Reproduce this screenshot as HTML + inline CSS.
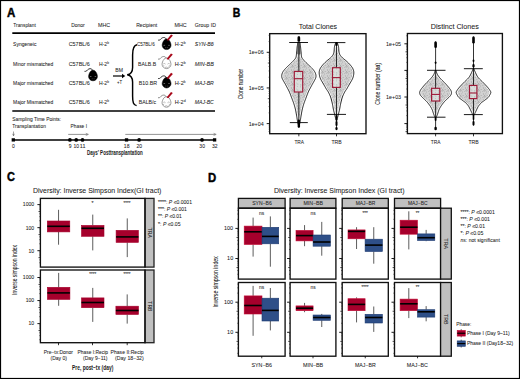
<!DOCTYPE html><html><head><meta charset="utf-8"><style>html,body{margin:0;padding:0;background:#fff;}body{width:520px;height:379px;overflow:hidden;font-family:"Liberation Sans", sans-serif;}text:not([font-weight]){stroke:#1a1a1a;stroke-width:0.05px;}</style></head><body><svg width="520" height="379" viewBox="0 0 520 379" style="display:block;font-family:'Liberation Sans', sans-serif"><defs><pattern id="dots" x="0" y="0" width="6" height="6" patternUnits="userSpaceOnUse"><rect width="6" height="6" fill="#d2d2d2"/><circle cx="3.74" cy="4.45" r="0.45" fill="#9c9c9c"/><circle cx="4.77" cy="5.65" r="0.45" fill="#9c9c9c"/><circle cx="4.44" cy="5.53" r="0.45" fill="#9c9c9c"/><circle cx="0.17" cy="2.79" r="0.45" fill="#9c9c9c"/><circle cx="5.66" cy="3.89" r="0.45" fill="#9c9c9c"/><circle cx="5.41" cy="0.68" r="0.45" fill="#9c9c9c"/><circle cx="2.81" cy="1.48" r="0.45" fill="#9c9c9c"/><circle cx="3.26" cy="3.44" r="0.45" fill="#9c9c9c"/><circle cx="0.08" cy="1.30" r="0.45" fill="#9c9c9c"/><circle cx="1.68" cy="5.50" r="0.45" fill="#9c9c9c"/><circle cx="4.59" cy="0.96" r="0.45" fill="#9c9c9c"/><circle cx="4.78" cy="0.83" r="0.45" fill="#9c9c9c"/><circle cx="3.70" cy="0.76" r="0.45" fill="#9c9c9c"/><circle cx="0.01" cy="5.23" r="0.45" fill="#9c9c9c"/></pattern><pattern id="dots2" x="0" y="0" width="6" height="6" patternUnits="userSpaceOnUse"><rect width="6" height="6" fill="#dadedc"/><circle cx="1.94" cy="0.91" r="0.45" fill="#b4b8b5"/><circle cx="3.91" cy="0.43" r="0.45" fill="#b4b8b5"/><circle cx="3.22" cy="2.19" r="0.45" fill="#b4b8b5"/><circle cx="0.35" cy="3.04" r="0.45" fill="#b4b8b5"/><circle cx="0.22" cy="2.60" r="0.45" fill="#b4b8b5"/><circle cx="0.42" cy="0.54" r="0.45" fill="#b4b8b5"/><circle cx="2.55" cy="4.96" r="0.45" fill="#b4b8b5"/><circle cx="0.74" cy="1.34" r="0.45" fill="#b4b8b5"/><circle cx="3.76" cy="5.69" r="0.45" fill="#b4b8b5"/><circle cx="3.46" cy="2.38" r="0.45" fill="#b4b8b5"/></pattern></defs><rect width="520" height="379" fill="#fff"/><rect x="0.50" y="0.50" width="519.00" height="378.00" fill="none" stroke="#000" stroke-width="1.2"/>
<text x="6.90" y="16.70" font-size="12.4" fill="#000" font-weight="bold" textLength="8.30" lengthAdjust="spacingAndGlyphs" stroke="#000" stroke-width="0.45">A</text>
<text x="13.30" y="26.80" font-size="5.6" fill="#1a1a1a" textLength="22.50" lengthAdjust="spacingAndGlyphs">Transplant</text>
<text x="71.20" y="26.90" font-size="5.6" fill="#1a1a1a" textLength="13.60" lengthAdjust="spacingAndGlyphs">Donor</text>
<text x="98.00" y="26.90" font-size="5.6" fill="#1a1a1a" textLength="12.20" lengthAdjust="spacingAndGlyphs">MHC</text>
<text x="136.20" y="27.00" font-size="5.6" fill="#1a1a1a" textLength="21.00" lengthAdjust="spacingAndGlyphs">Recipient</text>
<text x="174.40" y="27.00" font-size="5.6" fill="#1a1a1a" textLength="12.30" lengthAdjust="spacingAndGlyphs">MHC</text>
<text x="194.80" y="27.00" font-size="5.6" fill="#1a1a1a" textLength="21.10" lengthAdjust="spacingAndGlyphs">Group ID</text>
<line x1="12.30" y1="33.10" x2="215.00" y2="33.10" stroke="#000" stroke-width="1.7"/>
<text x="13.10" y="46.40" font-size="5.6" fill="#1a1a1a" textLength="23.30" lengthAdjust="spacingAndGlyphs">Syngeneic</text>
<text x="68.70" y="46.40" font-size="5.6" fill="#1a1a1a" textLength="21.10" lengthAdjust="spacingAndGlyphs">C57BL/6</text>
<text x="99.00" y="46.40" font-size="5.6" fill="#1a1a1a" textLength="10.00" lengthAdjust="spacingAndGlyphs">H-2<tspan font-size="3.6" dy="-2">b</tspan></text>
<text x="136.90" y="46.40" font-size="5.6" fill="#1a1a1a" textLength="17.80" lengthAdjust="spacingAndGlyphs">C57BL/6</text>
<text x="174.80" y="46.40" font-size="5.6" fill="#1a1a1a" textLength="10.80" lengthAdjust="spacingAndGlyphs">H-2<tspan font-size="3.6" dy="-2">b</tspan></text>
<text x="194.80" y="46.40" font-size="5.6" fill="#1a1a1a" font-style="italic" textLength="19.00" lengthAdjust="spacingAndGlyphs">SYN-B6</text>
<text x="13.10" y="65.50" font-size="5.6" fill="#1a1a1a" textLength="40.20" lengthAdjust="spacingAndGlyphs">Minor mismatched</text>
<text x="68.70" y="65.50" font-size="5.6" fill="#1a1a1a" textLength="21.10" lengthAdjust="spacingAndGlyphs">C57BL/6</text>
<text x="99.00" y="65.50" font-size="5.6" fill="#1a1a1a" textLength="10.00" lengthAdjust="spacingAndGlyphs">H-2<tspan font-size="3.6" dy="-2">b</tspan></text>
<text x="138.10" y="65.50" font-size="5.6" fill="#1a1a1a" textLength="18.00" lengthAdjust="spacingAndGlyphs">BALB.B</text>
<text x="174.80" y="65.50" font-size="5.6" fill="#1a1a1a" textLength="10.80" lengthAdjust="spacingAndGlyphs">H-2<tspan font-size="3.6" dy="-2">b</tspan></text>
<text x="194.80" y="65.50" font-size="5.6" fill="#1a1a1a" font-style="italic" textLength="19.00" lengthAdjust="spacingAndGlyphs">MIN-BB</text>
<text x="13.10" y="84.70" font-size="5.6" fill="#1a1a1a" textLength="40.20" lengthAdjust="spacingAndGlyphs">Major mismatched</text>
<text x="68.70" y="84.70" font-size="5.6" fill="#1a1a1a" textLength="21.10" lengthAdjust="spacingAndGlyphs">C57BL/6</text>
<text x="99.00" y="84.70" font-size="5.6" fill="#1a1a1a" textLength="10.00" lengthAdjust="spacingAndGlyphs">H-2<tspan font-size="3.6" dy="-2">b</tspan></text>
<text x="138.80" y="84.70" font-size="5.6" fill="#1a1a1a" textLength="18.20" lengthAdjust="spacingAndGlyphs">B10.BR</text>
<text x="174.80" y="84.70" font-size="5.6" fill="#1a1a1a" textLength="10.80" lengthAdjust="spacingAndGlyphs">H-2<tspan font-size="3.6" dy="-2">k</tspan></text>
<text x="194.80" y="84.70" font-size="5.6" fill="#1a1a1a" font-style="italic" textLength="19.00" lengthAdjust="spacingAndGlyphs">MAJ-BR</text>
<text x="13.10" y="104.00" font-size="5.6" fill="#1a1a1a" textLength="40.20" lengthAdjust="spacingAndGlyphs">Major Mismatched</text>
<text x="68.70" y="104.00" font-size="5.6" fill="#1a1a1a" textLength="21.10" lengthAdjust="spacingAndGlyphs">C57BL/6</text>
<text x="99.00" y="104.00" font-size="5.6" fill="#1a1a1a" textLength="10.00" lengthAdjust="spacingAndGlyphs">H-2<tspan font-size="3.6" dy="-2">b</tspan></text>
<text x="138.80" y="104.00" font-size="5.6" fill="#1a1a1a" textLength="17.30" lengthAdjust="spacingAndGlyphs">BALB/c</text>
<text x="174.80" y="104.00" font-size="5.6" fill="#1a1a1a" textLength="10.80" lengthAdjust="spacingAndGlyphs">H-2<tspan font-size="3.6" dy="-2">d</tspan></text>
<text x="194.80" y="104.00" font-size="5.6" fill="#1a1a1a" font-style="italic" textLength="19.00" lengthAdjust="spacingAndGlyphs">MAJ-BC</text>
<path d="M137.0,44.8 C133.6,45.3 132.6,48.5 132.6,55 L132.6,67.5 C132.6,72 131,74.2 127.2,74.8 C131,75.4 132.6,77.6 132.6,82 L132.6,96 C132.6,102.5 133.4,105 136.6,105.6" fill="none" stroke="#000" stroke-width="1.45"/>
<text x="115.30" y="71.60" font-size="5.6" fill="#1a1a1a" textLength="7.60" lengthAdjust="spacingAndGlyphs">BM</text>
<text x="117.00" y="83.50" font-size="5.6" fill="#1a1a1a" textLength="5.20" lengthAdjust="spacingAndGlyphs">+T</text>
<line x1="113.00" y1="76.00" x2="123.00" y2="76.00" stroke="#000" stroke-width="1.2"/>
<path d="M122,73.8 L125.3,76 L122,78.2 Z" fill="#000"/>
<path d="M92.70,70.40 C92.40,69.30 91.30,68.60 90.00,68.70 C88.40,68.80 87.50,69.90 86.80,70.70 C86.20,71.30 85.50,71.50 84.90,71.40" fill="none" stroke="#111" stroke-width="0.85" stroke-linecap="round"/><path d="M93.00,70.20 C95.10,70.20 96.30,72.20 97.00,74.20 C97.60,75.90 97.60,77.20 96.90,78.40 C96.10,79.80 94.80,80.70 93.00,80.80 C91.20,80.70 89.90,79.80 89.10,78.40 C88.40,77.20 88.40,75.90 89.00,74.20 C89.70,72.20 90.90,70.20 93.00,70.20 Z" fill="#000" stroke="#000" stroke-width="0.5"/><ellipse cx="90.70" cy="76.40" rx="0.9" ry="0.5" fill="#6a6a6a"/><ellipse cx="95.40" cy="76.40" rx="0.9" ry="0.5" fill="#6a6a6a"/><circle cx="92.20" cy="78.80" r="0.55" fill="#444"/><circle cx="94.10" cy="78.80" r="0.55" fill="#444"/>
<path d="M166.30,39.20 C166.00,38.10 164.90,37.40 163.60,37.50 C162.00,37.60 161.10,38.70 160.40,39.50 C159.80,40.10 159.10,40.30 158.50,40.20" fill="none" stroke="#111" stroke-width="0.85" stroke-linecap="round"/><path d="M166.60,39.00 C168.70,39.00 169.90,41.00 170.60,43.00 C171.20,44.70 171.20,46.00 170.50,47.20 C169.70,48.60 168.40,49.50 166.60,49.60 C164.80,49.50 163.50,48.60 162.70,47.20 C162.00,46.00 162.00,44.70 162.60,43.00 C163.30,41.00 164.50,39.00 166.60,39.00 Z" fill="#000" stroke="#000" stroke-width="0.5"/><ellipse cx="164.30" cy="45.20" rx="0.9" ry="0.5" fill="#6a6a6a"/><ellipse cx="169.00" cy="45.20" rx="0.9" ry="0.5" fill="#6a6a6a"/><circle cx="165.80" cy="47.60" r="0.55" fill="#444"/><circle cx="167.70" cy="47.60" r="0.55" fill="#444"/><path d="M166.60,39.90 171.10,34.40 172.90,35.50 168.30,40.70 Z" fill="#a8081a"/>
<path d="M166.20,58.20 C165.90,57.10 164.80,56.40 163.50,56.50 C161.90,56.60 161.00,57.70 160.30,58.50 C159.70,59.10 159.00,59.30 158.40,59.20" fill="none" stroke="#777" stroke-width="0.85" stroke-linecap="round"/><path d="M166.50,58.00 C168.60,58.00 169.80,60.00 170.50,62.00 C171.10,63.70 171.10,65.00 170.40,66.20 C169.60,67.60 168.30,68.50 166.50,68.60 C164.70,68.50 163.40,67.60 162.60,66.20 C161.90,65.00 161.90,63.70 162.50,62.00 C163.20,60.00 164.40,58.00 166.50,58.00 Z" fill="#fff" stroke="#666" stroke-width="0.65"/><path d="M163.30,63.80 q1.1,-0.8 2.2,0.3 M167.50,64.10 q1.1,-1.1 2.2,-0.3 M164.90,66.80 l1.0,0.9 l0.8,-0.6 l0.8,0.6 l1.0,-0.9 M164.00,65.20 l-0.9,1.2 M169.10,65.20 l0.9,1.2" fill="none" stroke="#777" stroke-width="0.5"/><path d="M166.50,58.90 171.00,53.40 172.80,54.50 168.20,59.70 Z" fill="#a8081a"/>
<path d="M166.30,77.60 C166.00,76.50 164.90,75.80 163.60,75.90 C162.00,76.00 161.10,77.10 160.40,77.90 C159.80,78.50 159.10,78.70 158.50,78.60" fill="none" stroke="#111" stroke-width="0.85" stroke-linecap="round"/><path d="M166.60,77.40 C168.70,77.40 169.90,79.40 170.60,81.40 C171.20,83.10 171.20,84.40 170.50,85.60 C169.70,87.00 168.40,87.90 166.60,88.00 C164.80,87.90 163.50,87.00 162.70,85.60 C162.00,84.40 162.00,83.10 162.60,81.40 C163.30,79.40 164.50,77.40 166.60,77.40 Z" fill="#000" stroke="#000" stroke-width="0.5"/><ellipse cx="164.30" cy="83.60" rx="0.9" ry="0.5" fill="#6a6a6a"/><ellipse cx="169.00" cy="83.60" rx="0.9" ry="0.5" fill="#6a6a6a"/><circle cx="165.80" cy="86.00" r="0.55" fill="#444"/><circle cx="167.70" cy="86.00" r="0.55" fill="#444"/><path d="M166.60,78.30 171.10,72.80 172.90,73.90 168.30,79.10 Z" fill="#a8081a"/>
<path d="M166.20,96.80 C165.90,95.70 164.80,95.00 163.50,95.10 C161.90,95.20 161.00,96.30 160.30,97.10 C159.70,97.70 159.00,97.90 158.40,97.80" fill="none" stroke="#777" stroke-width="0.85" stroke-linecap="round"/><path d="M166.50,96.60 C168.60,96.60 169.80,98.60 170.50,100.60 C171.10,102.30 171.10,103.60 170.40,104.80 C169.60,106.20 168.30,107.10 166.50,107.20 C164.70,107.10 163.40,106.20 162.60,104.80 C161.90,103.60 161.90,102.30 162.50,100.60 C163.20,98.60 164.40,96.60 166.50,96.60 Z" fill="#fff" stroke="#666" stroke-width="0.65"/><path d="M163.30,102.40 q1.1,-0.8 2.2,0.3 M167.50,102.70 q1.1,-1.1 2.2,-0.3 M164.90,105.40 l1.0,0.9 l0.8,-0.6 l0.8,0.6 l1.0,-0.9 M164.00,103.80 l-0.9,1.2 M169.10,103.80 l0.9,1.2" fill="none" stroke="#777" stroke-width="0.5"/><path d="M166.50,97.50 171.00,92.00 172.80,93.10 168.20,98.30 Z" fill="#a8081a"/>
<line x1="12.30" y1="111.00" x2="215.00" y2="111.00" stroke="#000" stroke-width="1.7"/>
<text x="12.20" y="120.50" font-size="5.6" fill="#1a1a1a" textLength="49.00" lengthAdjust="spacingAndGlyphs">Sampling Time Points:</text>
<text x="12.20" y="128.40" font-size="5.6" fill="#1a1a1a" textLength="33.70" lengthAdjust="spacingAndGlyphs">Transplantation</text>
<text x="70.60" y="128.40" font-size="5.6" fill="#1a1a1a" textLength="16.40" lengthAdjust="spacingAndGlyphs">Phase I</text>
<line x1="13.50" y1="131.50" x2="13.50" y2="135.60" stroke="#444" stroke-width="0.5"/>
<path d="M12.6,133.8 L13.5,135.8 L14.4,133.8" fill="none" stroke="#444" stroke-width="0.5"/>
<line x1="68.20" y1="134.40" x2="87.60" y2="134.40" stroke="#666" stroke-width="0.7"/>
<path d="M85.8,133.3 L88.4,134.4 L85.8,135.5" fill="none" stroke="#666" stroke-width="0.6"/>
<line x1="125.30" y1="134.40" x2="215.40" y2="134.40" stroke="#666" stroke-width="0.7"/>
<path d="M213.6,133.3 L216.2,134.4 L213.6,135.5" fill="none" stroke="#666" stroke-width="0.6"/>
<line x1="12.00" y1="139.90" x2="215.50" y2="139.90" stroke="#000" stroke-width="1.5"/>
<rect x="11.65" y="138.25" width="3.30" height="3.30" fill="#000" stroke="none" stroke-width="1"/>
<rect x="124.88" y="138.25" width="3.30" height="3.30" fill="#000" stroke="none" stroke-width="1"/>
<rect x="212.95" y="138.25" width="3.30" height="3.30" fill="#000" stroke="none" stroke-width="1"/>
<circle cx="69.92" cy="139.9" r="1.85" fill="#000"/>
<circle cx="76.21" cy="139.9" r="1.85" fill="#000"/>
<circle cx="82.50" cy="139.9" r="1.85" fill="#000"/>
<circle cx="139.11" cy="139.9" r="1.85" fill="#000"/>
<circle cx="202.02" cy="139.9" r="1.85" fill="#000"/>
<text x="12.05" y="147.70" font-size="5.0" fill="#1a1a1a" textLength="2.80" lengthAdjust="spacingAndGlyphs">0</text>
<text x="68.67" y="147.70" font-size="5.0" fill="#1a1a1a" textLength="2.80" lengthAdjust="spacingAndGlyphs">9</text>
<text x="73.56" y="147.70" font-size="5.0" fill="#1a1a1a" textLength="5.60" lengthAdjust="spacingAndGlyphs">10</text>
<text x="79.85" y="147.70" font-size="5.0" fill="#1a1a1a" textLength="5.60" lengthAdjust="spacingAndGlyphs">11</text>
<text x="123.88" y="147.70" font-size="5.0" fill="#1a1a1a" textLength="5.60" lengthAdjust="spacingAndGlyphs">18</text>
<text x="136.46" y="147.70" font-size="5.0" fill="#1a1a1a" textLength="5.60" lengthAdjust="spacingAndGlyphs">20</text>
<text x="199.37" y="147.70" font-size="5.0" fill="#1a1a1a" textLength="5.60" lengthAdjust="spacingAndGlyphs">30</text>
<text x="211.95" y="147.70" font-size="5.0" fill="#1a1a1a" textLength="5.60" lengthAdjust="spacingAndGlyphs">32</text>
<text x="87.00" y="154.80" font-size="6.6" fill="#1a1a1a" font-weight="bold" textLength="55.70" lengthAdjust="spacingAndGlyphs">Days’ Posttransplantation</text>
<text x="232.70" y="16.80" font-size="12.4" fill="#000" font-weight="bold" textLength="7.60" lengthAdjust="spacingAndGlyphs" stroke="#000" stroke-width="0.45">B</text>
<text x="298.70" y="28.60" font-size="7.3" fill="#1a1a1a" textLength="38.40" lengthAdjust="spacingAndGlyphs">Total Clones</text>
<text x="430.80" y="28.60" font-size="7.3" fill="#1a1a1a" textLength="48.00" lengthAdjust="spacingAndGlyphs">Distinct Clones</text>
<path d="M299.85,42.50 L299.93,43.24 L300.04,43.98 L300.17,44.72 L300.31,45.46 L300.44,46.22 L300.55,47.00 L300.64,47.80 L300.73,48.63 L300.81,49.46 L300.88,50.31 L300.96,51.16 L301.05,52.00 L301.13,52.88 L301.21,53.79 L301.29,54.71 L301.38,55.60 L301.50,56.41 L301.65,57.10 L301.84,57.65 L302.05,58.09 L302.28,58.45 L302.55,58.78 L302.83,59.11 L303.15,59.50 L303.50,59.93 L303.89,60.38 L304.30,60.84 L304.73,61.30 L305.16,61.75 L305.60,62.20 L306.04,62.64 L306.49,63.07 L306.96,63.51 L307.42,63.94 L307.89,64.37 L308.35,64.80 L308.81,65.23 L309.28,65.67 L309.75,66.10 L310.21,66.53 L310.66,66.97 L311.10,67.40 L311.52,67.83 L311.94,68.27 L312.34,68.71 L312.73,69.14 L313.10,69.57 L313.45,70.00 L313.77,70.42 L314.08,70.83 L314.37,71.23 L314.64,71.64 L314.88,72.06 L315.10,72.50 L315.30,72.96 L315.49,73.45 L315.65,73.94 L315.78,74.44 L315.88,74.93 L315.95,75.40 L315.98,75.85 L315.98,76.27 L315.95,76.69 L315.88,77.11 L315.78,77.55 L315.65,78.00 L315.47,78.48 L315.25,78.97 L314.99,79.47 L314.71,79.99 L314.43,80.50 L314.15,81.00 L313.88,81.50 L313.59,82.00 L313.31,82.50 L313.02,83.00 L312.73,83.50 L312.45,84.00 L312.19,84.48 L311.94,84.93 L311.70,85.39 L311.45,85.87 L311.17,86.40 L310.85,87.00 L310.48,87.68 L310.07,88.43 L309.64,89.23 L309.20,90.06 L308.76,90.92 L308.35,91.80 L307.96,92.71 L307.58,93.66 L307.20,94.64 L306.83,95.63 L306.47,96.62 L306.10,97.60 L305.73,98.57 L305.36,99.53 L304.99,100.50 L304.63,101.47 L304.28,102.43 L303.95,103.40 L303.64,104.37 L303.34,105.33 L303.06,106.30 L302.79,107.27 L302.54,108.23 L302.30,109.20 L302.08,110.18 L301.88,111.18 L301.69,112.17 L301.52,113.16 L301.36,114.10 L301.20,115.00 L301.05,115.85 L300.92,116.67 L300.79,117.45 L300.68,118.20 L300.56,118.92 L300.45,119.60 L300.34,120.25 L300.24,120.87 L300.14,121.46 L300.04,122.01 L299.95,122.53 L299.85,123.00 L299.74,123.41 L299.63,123.77 L299.51,124.09 L299.41,124.39 L299.32,124.68 L299.25,125.00 L298.45,125.00 L298.38,124.68 L298.29,124.39 L298.19,124.09 L298.07,123.77 L297.96,123.41 L297.85,123.00 L297.75,122.53 L297.66,122.01 L297.56,121.46 L297.46,120.87 L297.36,120.25 L297.25,119.60 L297.14,118.92 L297.02,118.20 L296.91,117.45 L296.78,116.67 L296.65,115.85 L296.50,115.00 L296.34,114.10 L296.18,113.16 L296.01,112.17 L295.82,111.18 L295.62,110.18 L295.40,109.20 L295.16,108.23 L294.91,107.27 L294.64,106.30 L294.36,105.33 L294.06,104.37 L293.75,103.40 L293.42,102.43 L293.07,101.47 L292.71,100.50 L292.34,99.53 L291.97,98.57 L291.60,97.60 L291.23,96.62 L290.87,95.63 L290.50,94.64 L290.12,93.66 L289.74,92.71 L289.35,91.80 L288.94,90.92 L288.50,90.06 L288.06,89.23 L287.63,88.43 L287.22,87.68 L286.85,87.00 L286.53,86.40 L286.25,85.87 L286.00,85.39 L285.76,84.93 L285.51,84.48 L285.25,84.00 L284.97,83.50 L284.68,83.00 L284.39,82.50 L284.11,82.00 L283.82,81.50 L283.55,81.00 L283.27,80.50 L282.99,79.99 L282.71,79.47 L282.45,78.97 L282.23,78.48 L282.05,78.00 L281.92,77.55 L281.82,77.11 L281.75,76.69 L281.72,76.27 L281.72,75.85 L281.75,75.40 L281.82,74.93 L281.92,74.44 L282.05,73.94 L282.21,73.45 L282.40,72.96 L282.60,72.50 L282.82,72.06 L283.06,71.64 L283.33,71.23 L283.62,70.83 L283.93,70.42 L284.25,70.00 L284.60,69.57 L284.97,69.14 L285.36,68.71 L285.76,68.27 L286.18,67.83 L286.60,67.40 L287.04,66.97 L287.49,66.53 L287.95,66.10 L288.42,65.67 L288.89,65.23 L289.35,64.80 L289.81,64.37 L290.28,63.94 L290.74,63.51 L291.21,63.07 L291.66,62.64 L292.10,62.20 L292.54,61.75 L292.97,61.30 L293.40,60.84 L293.81,60.38 L294.20,59.93 L294.55,59.50 L294.87,59.11 L295.15,58.78 L295.42,58.45 L295.65,58.09 L295.86,57.65 L296.05,57.10 L296.20,56.41 L296.32,55.60 L296.41,54.71 L296.49,53.79 L296.57,52.88 L296.65,52.00 L296.74,51.16 L296.82,50.31 L296.89,49.46 L296.97,48.63 L297.06,47.80 L297.15,47.00 L297.26,46.22 L297.39,45.46 L297.53,44.72 L297.66,43.98 L297.77,43.24 L297.85,42.50 Z" fill="#fff" stroke="#111" stroke-width="0.95"/>
<path d="M299.01,45.46 L299.14,46.22 L299.25,47.00 L299.34,47.80 L299.43,48.63 L299.51,49.46 L299.58,50.31 L299.66,51.16 L299.75,52.00 L299.83,52.88 L299.91,53.79 L299.99,54.71 L300.08,55.60 L300.20,56.41 L300.35,57.10 L300.54,57.65 L300.75,58.09 L300.98,58.45 L301.25,58.78 L301.53,59.11 L301.85,59.50 L302.20,59.93 L302.59,60.38 L303.00,60.84 L303.43,61.30 L303.86,61.75 L304.30,62.20 L304.74,62.64 L305.19,63.07 L305.66,63.51 L306.12,63.94 L306.59,64.37 L307.05,64.80 L307.51,65.23 L307.98,65.67 L308.45,66.10 L308.91,66.53 L309.36,66.97 L309.80,67.40 L310.22,67.83 L310.64,68.27 L311.04,68.71 L311.43,69.14 L311.80,69.57 L312.15,70.00 L312.47,70.42 L312.78,70.83 L313.07,71.23 L313.34,71.64 L313.58,72.06 L313.80,72.50 L314.00,72.96 L314.19,73.45 L314.35,73.94 L314.48,74.44 L314.58,74.93 L314.65,75.40 L314.68,75.85 L314.68,76.27 L314.65,76.69 L314.58,77.11 L314.48,77.55 L314.35,78.00 L314.17,78.48 L313.95,78.97 L313.69,79.47 L313.41,79.99 L313.13,80.50 L312.85,81.00 L312.58,81.50 L312.29,82.00 L312.01,82.50 L311.72,83.00 L311.43,83.50 L311.15,84.00 L310.89,84.48 L310.64,84.93 L310.40,85.39 L310.15,85.87 L309.87,86.40 L309.55,87.00 L309.18,87.68 L308.77,88.43 L308.34,89.23 L307.90,90.06 L307.46,90.92 L307.05,91.80 L306.66,92.71 L306.28,93.66 L305.90,94.64 L305.53,95.63 L305.17,96.62 L304.80,97.60 L304.43,98.57 L304.06,99.53 L303.69,100.50 L303.33,101.47 L302.98,102.43 L302.65,103.40 L302.34,104.37 L302.04,105.33 L301.76,106.30 L301.49,107.27 L301.24,108.23 L301.00,109.20 L300.78,110.18 L300.58,111.18 L300.39,112.17 L300.22,113.16 L300.06,114.10 L299.90,115.00 L299.75,115.85 L299.62,116.67 L299.49,117.45 L299.38,118.20 L299.26,118.92 L299.15,119.60 L299.04,120.25 L298.94,120.87 L298.76,120.87 L298.66,120.25 L298.55,119.60 L298.44,118.92 L298.32,118.20 L298.21,117.45 L298.08,116.67 L297.95,115.85 L297.80,115.00 L297.64,114.10 L297.48,113.16 L297.31,112.17 L297.12,111.18 L296.92,110.18 L296.70,109.20 L296.46,108.23 L296.21,107.27 L295.94,106.30 L295.66,105.33 L295.36,104.37 L295.05,103.40 L294.72,102.43 L294.37,101.47 L294.01,100.50 L293.64,99.53 L293.27,98.57 L292.90,97.60 L292.53,96.62 L292.17,95.63 L291.80,94.64 L291.42,93.66 L291.04,92.71 L290.65,91.80 L290.24,90.92 L289.80,90.06 L289.36,89.23 L288.93,88.43 L288.52,87.68 L288.15,87.00 L287.83,86.40 L287.55,85.87 L287.30,85.39 L287.06,84.93 L286.81,84.48 L286.55,84.00 L286.27,83.50 L285.98,83.00 L285.69,82.50 L285.41,82.00 L285.12,81.50 L284.85,81.00 L284.57,80.50 L284.29,79.99 L284.01,79.47 L283.75,78.97 L283.53,78.48 L283.35,78.00 L283.22,77.55 L283.12,77.11 L283.05,76.69 L283.02,76.27 L283.02,75.85 L283.05,75.40 L283.12,74.93 L283.22,74.44 L283.35,73.94 L283.51,73.45 L283.70,72.96 L283.90,72.50 L284.12,72.06 L284.36,71.64 L284.63,71.23 L284.92,70.83 L285.23,70.42 L285.55,70.00 L285.90,69.57 L286.27,69.14 L286.66,68.71 L287.06,68.27 L287.48,67.83 L287.90,67.40 L288.34,66.97 L288.79,66.53 L289.25,66.10 L289.72,65.67 L290.19,65.23 L290.65,64.80 L291.11,64.37 L291.58,63.94 L292.04,63.51 L292.51,63.07 L292.96,62.64 L293.40,62.20 L293.84,61.75 L294.27,61.30 L294.70,60.84 L295.11,60.38 L295.50,59.93 L295.85,59.50 L296.17,59.11 L296.45,58.78 L296.72,58.45 L296.95,58.09 L297.16,57.65 L297.35,57.10 L297.50,56.41 L297.62,55.60 L297.71,54.71 L297.79,53.79 L297.87,52.88 L297.95,52.00 L298.04,51.16 L298.12,50.31 L298.19,49.46 L298.27,48.63 L298.36,47.80 L298.45,47.00 L298.56,46.22 L298.69,45.46 Z" fill="url(#dots)"/>
<path d="M337.30,42.50 L337.44,43.15 L337.63,43.77 L337.85,44.39 L338.09,45.05 L338.31,45.77 L338.50,46.60 L338.63,47.59 L338.72,48.71 L338.79,49.91 L338.89,51.10 L339.03,52.22 L339.25,53.20 L339.54,54.02 L339.87,54.73 L340.26,55.37 L340.69,55.97 L341.19,56.57 L341.75,57.20 L342.41,57.85 L343.17,58.50 L343.98,59.15 L344.82,59.80 L345.64,60.45 L346.40,61.10 L347.11,61.76 L347.82,62.43 L348.50,63.10 L349.16,63.77 L349.77,64.44 L350.35,65.10 L350.89,65.75 L351.40,66.40 L351.87,67.05 L352.30,67.70 L352.68,68.35 L353.00,69.00 L353.26,69.65 L353.47,70.28 L353.63,70.91 L353.74,71.57 L353.80,72.26 L353.80,73.00 L353.76,73.79 L353.67,74.62 L353.53,75.49 L353.33,76.39 L353.06,77.33 L352.70,78.30 L352.22,79.36 L351.60,80.50 L350.92,81.69 L350.22,82.85 L349.56,83.94 L349.00,84.90 L348.55,85.71 L348.15,86.43 L347.80,87.06 L347.47,87.65 L347.14,88.22 L346.80,88.80 L346.45,89.35 L346.10,89.85 L345.76,90.33 L345.41,90.83 L345.06,91.37 L344.70,92.00 L344.32,92.72 L343.92,93.49 L343.52,94.31 L343.13,95.18 L342.75,96.08 L342.40,97.00 L342.08,97.96 L341.79,98.96 L341.51,100.00 L341.25,101.06 L340.99,102.13 L340.75,103.20 L340.51,104.32 L340.29,105.50 L340.07,106.69 L339.87,107.84 L339.68,108.89 L339.50,109.80 L339.34,110.52 L339.21,111.09 L339.08,111.56 L338.96,112.00 L338.84,112.46 L338.70,113.00 L338.54,113.63 L338.37,114.31 L338.20,115.01 L338.03,115.71 L337.86,116.38 L337.70,117.00 L337.55,117.56 L337.39,118.07 L337.24,118.56 L337.10,119.04 L336.98,119.51 L336.90,120.00 L336.10,120.00 L336.02,119.51 L335.90,119.04 L335.76,118.56 L335.61,118.07 L335.45,117.56 L335.30,117.00 L335.14,116.38 L334.97,115.71 L334.80,115.01 L334.63,114.31 L334.46,113.63 L334.30,113.00 L334.16,112.46 L334.04,112.00 L333.92,111.56 L333.79,111.09 L333.66,110.52 L333.50,109.80 L333.32,108.89 L333.13,107.84 L332.93,106.69 L332.71,105.50 L332.49,104.32 L332.25,103.20 L332.01,102.13 L331.75,101.06 L331.49,100.00 L331.21,98.96 L330.92,97.96 L330.60,97.00 L330.25,96.08 L329.87,95.18 L329.48,94.31 L329.08,93.49 L328.68,92.72 L328.30,92.00 L327.94,91.37 L327.59,90.83 L327.24,90.33 L326.90,89.85 L326.55,89.35 L326.20,88.80 L325.86,88.22 L325.53,87.65 L325.20,87.06 L324.85,86.43 L324.45,85.71 L324.00,84.90 L323.44,83.94 L322.78,82.85 L322.08,81.69 L321.40,80.50 L320.78,79.36 L320.30,78.30 L319.94,77.33 L319.67,76.39 L319.47,75.49 L319.33,74.62 L319.24,73.79 L319.20,73.00 L319.20,72.26 L319.26,71.57 L319.37,70.91 L319.53,70.28 L319.74,69.65 L320.00,69.00 L320.32,68.35 L320.70,67.70 L321.13,67.05 L321.60,66.40 L322.11,65.75 L322.65,65.10 L323.23,64.44 L323.84,63.77 L324.50,63.10 L325.18,62.43 L325.89,61.76 L326.60,61.10 L327.36,60.45 L328.18,59.80 L329.02,59.15 L329.83,58.50 L330.59,57.85 L331.25,57.20 L331.81,56.57 L332.31,55.97 L332.74,55.37 L333.13,54.73 L333.46,54.02 L333.75,53.20 L333.97,52.22 L334.11,51.10 L334.21,49.91 L334.28,48.71 L334.37,47.59 L334.50,46.60 L334.69,45.77 L334.91,45.05 L335.15,44.39 L335.37,43.77 L335.56,43.15 L335.70,42.50 Z" fill="#fff" stroke="#111" stroke-width="0.95"/>
<path d="M336.55,44.39 L336.79,45.05 L337.01,45.77 L337.20,46.60 L337.33,47.59 L337.42,48.71 L337.49,49.91 L337.59,51.10 L337.73,52.22 L337.95,53.20 L338.24,54.02 L338.57,54.73 L338.96,55.37 L339.39,55.97 L339.89,56.57 L340.45,57.20 L341.11,57.85 L341.87,58.50 L342.68,59.15 L343.52,59.80 L344.34,60.45 L345.10,61.10 L345.81,61.76 L346.52,62.43 L347.20,63.10 L347.86,63.77 L348.48,64.44 L349.05,65.10 L349.59,65.75 L350.10,66.40 L350.57,67.05 L351.00,67.70 L351.38,68.35 L351.70,69.00 L351.96,69.65 L352.17,70.28 L352.33,70.91 L352.44,71.57 L352.50,72.26 L352.50,73.00 L352.46,73.79 L352.37,74.62 L352.23,75.49 L352.03,76.39 L351.76,77.33 L351.40,78.30 L350.92,79.36 L350.30,80.50 L349.62,81.69 L348.92,82.85 L348.26,83.94 L347.70,84.90 L347.25,85.71 L346.85,86.43 L346.50,87.06 L346.17,87.65 L345.84,88.22 L345.50,88.80 L345.15,89.35 L344.80,89.85 L344.46,90.33 L344.11,90.83 L343.76,91.37 L343.40,92.00 L343.02,92.72 L342.62,93.49 L342.22,94.31 L341.83,95.18 L341.45,96.08 L341.10,97.00 L340.78,97.96 L340.49,98.96 L340.21,100.00 L339.95,101.06 L339.69,102.13 L339.45,103.20 L339.21,104.32 L338.99,105.50 L338.77,106.69 L338.57,107.84 L338.38,108.89 L338.20,109.80 L338.04,110.52 L337.91,111.09 L337.78,111.56 L337.66,112.00 L337.54,112.46 L337.40,113.00 L337.24,113.63 L337.07,114.31 L336.90,115.01 L336.73,115.71 L336.56,116.38 L336.44,116.38 L336.27,115.71 L336.10,115.01 L335.93,114.31 L335.76,113.63 L335.60,113.00 L335.46,112.46 L335.34,112.00 L335.22,111.56 L335.09,111.09 L334.96,110.52 L334.80,109.80 L334.62,108.89 L334.43,107.84 L334.23,106.69 L334.01,105.50 L333.79,104.32 L333.55,103.20 L333.31,102.13 L333.05,101.06 L332.79,100.00 L332.51,98.96 L332.22,97.96 L331.90,97.00 L331.55,96.08 L331.17,95.18 L330.78,94.31 L330.38,93.49 L329.98,92.72 L329.60,92.00 L329.24,91.37 L328.89,90.83 L328.54,90.33 L328.20,89.85 L327.85,89.35 L327.50,88.80 L327.16,88.22 L326.83,87.65 L326.50,87.06 L326.15,86.43 L325.75,85.71 L325.30,84.90 L324.74,83.94 L324.08,82.85 L323.38,81.69 L322.70,80.50 L322.08,79.36 L321.60,78.30 L321.24,77.33 L320.97,76.39 L320.77,75.49 L320.63,74.62 L320.54,73.79 L320.50,73.00 L320.50,72.26 L320.56,71.57 L320.67,70.91 L320.83,70.28 L321.04,69.65 L321.30,69.00 L321.62,68.35 L322.00,67.70 L322.43,67.05 L322.90,66.40 L323.41,65.75 L323.95,65.10 L324.52,64.44 L325.14,63.77 L325.80,63.10 L326.48,62.43 L327.19,61.76 L327.90,61.10 L328.66,60.45 L329.48,59.80 L330.32,59.15 L331.13,58.50 L331.89,57.85 L332.55,57.20 L333.11,56.57 L333.61,55.97 L334.04,55.37 L334.43,54.73 L334.76,54.02 L335.05,53.20 L335.27,52.22 L335.41,51.10 L335.51,49.91 L335.58,48.71 L335.67,47.59 L335.80,46.60 L335.99,45.77 L336.21,45.05 L336.45,44.39 Z" fill="url(#dots)"/>
<line x1="298.85" y1="36.50" x2="298.85" y2="127.50" stroke="#000" stroke-width="0.8"/>
<line x1="336.50" y1="42.00" x2="336.50" y2="130.00" stroke="#000" stroke-width="0.8"/>
<rect x="297.50" y="36.30" width="2.70" height="5.50" rx="1.35" fill="#000"/>
<rect x="297.35" y="41.5" width="3" height="13" rx="1.2" fill="#4a4a4a"/>
<rect x="297.65" y="119.50" width="2.40" height="8.20" rx="1.20" fill="#000"/>
<rect x="335.40" y="42.30" width="2.20" height="3.70" rx="1.10" fill="#000"/>
<rect x="335.60" y="115.00" width="1.80" height="6.00" rx="0.90" fill="#000"/>
<rect x="335.50" y="121.00" width="2.00" height="5.00" rx="1.00" fill="#000"/>
<rect x="335.40" y="127.00" width="2.20" height="3.20" rx="1.10" fill="#000"/>
<line x1="289.20" y1="42.50" x2="308.00" y2="42.50" stroke="#000" stroke-width="0.9"/>
<line x1="289.80" y1="122.60" x2="307.80" y2="122.60" stroke="#000" stroke-width="0.9"/>
<line x1="327.00" y1="42.60" x2="345.40" y2="42.60" stroke="#000" stroke-width="0.9"/>
<line x1="326.90" y1="114.40" x2="346.00" y2="114.40" stroke="#000" stroke-width="0.9"/>
<rect x="294.30" y="71.40" width="8.40" height="20.60" fill="url(#dots2)" stroke="#9e1836" stroke-width="1.15"/>
<line x1="294.30" y1="78.70" x2="302.70" y2="78.70" stroke="#9e1836" stroke-width="1.1"/>
<rect x="332.50" y="67.70" width="7.80" height="19.70" fill="url(#dots2)" stroke="#9e1836" stroke-width="1.15"/>
<line x1="332.50" y1="77.60" x2="340.30" y2="77.60" stroke="#9e1836" stroke-width="1.1"/>
<rect x="269.70" y="33.65" width="96.30" height="100.05" fill="none" stroke="#111" stroke-width="1.35"/>
<line x1="268.60" y1="131.51" x2="269.70" y2="131.51" stroke="#222" stroke-width="0.65"/>
<line x1="268.60" y1="129.12" x2="269.70" y2="129.12" stroke="#222" stroke-width="0.65"/>
<line x1="268.60" y1="127.05" x2="269.70" y2="127.05" stroke="#222" stroke-width="0.65"/>
<line x1="268.60" y1="125.23" x2="269.70" y2="125.23" stroke="#222" stroke-width="0.65"/>
<line x1="266.70" y1="123.60" x2="269.70" y2="123.60" stroke="#000" stroke-width="0.9"/>
<line x1="268.60" y1="112.87" x2="269.70" y2="112.87" stroke="#222" stroke-width="0.65"/>
<line x1="268.60" y1="106.59" x2="269.70" y2="106.59" stroke="#222" stroke-width="0.65"/>
<line x1="268.60" y1="102.14" x2="269.70" y2="102.14" stroke="#222" stroke-width="0.65"/>
<line x1="267.80" y1="98.68" x2="269.70" y2="98.68" stroke="#111" stroke-width="0.75"/>
<line x1="268.60" y1="95.86" x2="269.70" y2="95.86" stroke="#222" stroke-width="0.65"/>
<line x1="268.60" y1="93.47" x2="269.70" y2="93.47" stroke="#222" stroke-width="0.65"/>
<line x1="268.60" y1="91.40" x2="269.70" y2="91.40" stroke="#222" stroke-width="0.65"/>
<line x1="268.60" y1="89.58" x2="269.70" y2="89.58" stroke="#222" stroke-width="0.65"/>
<line x1="266.70" y1="87.95" x2="269.70" y2="87.95" stroke="#000" stroke-width="0.9"/>
<line x1="268.60" y1="77.22" x2="269.70" y2="77.22" stroke="#222" stroke-width="0.65"/>
<line x1="268.60" y1="70.94" x2="269.70" y2="70.94" stroke="#222" stroke-width="0.65"/>
<line x1="268.60" y1="66.49" x2="269.70" y2="66.49" stroke="#222" stroke-width="0.65"/>
<line x1="267.80" y1="63.03" x2="269.70" y2="63.03" stroke="#111" stroke-width="0.75"/>
<line x1="268.60" y1="60.21" x2="269.70" y2="60.21" stroke="#222" stroke-width="0.65"/>
<line x1="268.60" y1="57.82" x2="269.70" y2="57.82" stroke="#222" stroke-width="0.65"/>
<line x1="268.60" y1="55.75" x2="269.70" y2="55.75" stroke="#222" stroke-width="0.65"/>
<line x1="268.60" y1="53.93" x2="269.70" y2="53.93" stroke="#222" stroke-width="0.65"/>
<line x1="266.70" y1="52.30" x2="269.70" y2="52.30" stroke="#000" stroke-width="0.9"/>
<line x1="268.60" y1="41.57" x2="269.70" y2="41.57" stroke="#222" stroke-width="0.65"/>
<line x1="268.60" y1="35.29" x2="269.70" y2="35.29" stroke="#222" stroke-width="0.65"/>
<text x="248.70" y="54.20" font-size="5.3" fill="#1a1a1a" textLength="15.00" lengthAdjust="spacingAndGlyphs">1e+06</text>
<text x="248.70" y="89.90" font-size="5.3" fill="#1a1a1a" textLength="15.00" lengthAdjust="spacingAndGlyphs">1e+05</text>
<text x="248.70" y="125.50" font-size="5.3" fill="#1a1a1a" textLength="15.00" lengthAdjust="spacingAndGlyphs">1e+04</text>
<line x1="298.85" y1="133.70" x2="298.85" y2="136.30" stroke="#000" stroke-width="0.8"/>
<line x1="336.50" y1="133.70" x2="336.50" y2="136.30" stroke="#000" stroke-width="0.8"/>
<text x="294.40" y="144.40" font-size="5.5" fill="#1a1a1a" textLength="9.60" lengthAdjust="spacingAndGlyphs">TRA</text>
<text x="331.50" y="144.40" font-size="5.5" fill="#1a1a1a" textLength="10.20" lengthAdjust="spacingAndGlyphs">TRB</text>
<text transform="translate(243.2,99.3) rotate(-90)" font-size="7" fill="#111" textLength="30.5" lengthAdjust="spacingAndGlyphs">Clone number</text>
<path d="M436.10,70.50 L436.22,71.16 L436.37,71.82 L436.55,72.48 L436.78,73.14 L437.06,73.82 L437.40,74.50 L437.81,75.20 L438.29,75.91 L438.81,76.63 L439.38,77.36 L439.98,78.08 L440.60,78.80 L441.26,79.52 L441.97,80.24 L442.72,80.96 L443.47,81.67 L444.21,82.39 L444.90,83.10 L445.57,83.82 L446.24,84.56 L446.89,85.30 L447.51,86.01 L448.09,86.69 L448.60,87.30 L449.04,87.84 L449.43,88.33 L449.78,88.77 L450.08,89.19 L450.35,89.59 L450.60,90.00 L450.83,90.41 L451.03,90.80 L451.20,91.18 L451.34,91.56 L451.44,91.93 L451.50,92.30 L451.52,92.67 L451.50,93.04 L451.45,93.41 L451.36,93.78 L451.25,94.14 L451.10,94.50 L450.93,94.85 L450.72,95.20 L450.48,95.54 L450.21,95.88 L449.92,96.23 L449.60,96.60 L449.24,96.98 L448.85,97.37 L448.42,97.77 L447.98,98.17 L447.54,98.58 L447.10,99.00 L446.66,99.42 L446.22,99.84 L445.77,100.27 L445.32,100.70 L444.88,101.15 L444.45,101.60 L444.04,102.07 L443.63,102.55 L443.23,103.04 L442.84,103.53 L442.46,104.02 L442.10,104.50 L441.76,104.97 L441.43,105.44 L441.11,105.91 L440.81,106.38 L440.52,106.84 L440.25,107.30 L439.99,107.75 L439.75,108.20 L439.52,108.64 L439.31,109.08 L439.10,109.53 L438.90,110.00 L438.71,110.48 L438.54,110.98 L438.38,111.48 L438.23,111.99 L438.07,112.50 L437.90,113.00 L437.72,113.52 L437.53,114.06 L437.33,114.59 L437.14,115.11 L436.96,115.59 L436.80,116.00 L436.65,116.34 L436.51,116.61 L436.38,116.84 L436.27,117.06 L436.17,117.27 L436.10,117.50 L435.10,117.50 L435.03,117.27 L434.93,117.06 L434.82,116.84 L434.69,116.61 L434.55,116.34 L434.40,116.00 L434.24,115.59 L434.06,115.11 L433.87,114.59 L433.67,114.06 L433.48,113.52 L433.30,113.00 L433.13,112.50 L432.97,111.99 L432.82,111.48 L432.66,110.98 L432.49,110.48 L432.30,110.00 L432.10,109.53 L431.89,109.08 L431.68,108.64 L431.45,108.20 L431.21,107.75 L430.95,107.30 L430.68,106.84 L430.39,106.38 L430.09,105.91 L429.77,105.44 L429.44,104.97 L429.10,104.50 L428.74,104.02 L428.36,103.53 L427.98,103.04 L427.57,102.55 L427.16,102.07 L426.75,101.60 L426.32,101.15 L425.88,100.70 L425.43,100.27 L424.98,99.84 L424.54,99.42 L424.10,99.00 L423.66,98.58 L423.22,98.17 L422.78,97.77 L422.35,97.37 L421.96,96.98 L421.60,96.60 L421.28,96.23 L420.99,95.88 L420.72,95.54 L420.48,95.20 L420.27,94.85 L420.10,94.50 L419.95,94.14 L419.84,93.78 L419.75,93.41 L419.70,93.04 L419.68,92.67 L419.70,92.30 L419.76,91.93 L419.86,91.56 L420.00,91.18 L420.17,90.80 L420.37,90.41 L420.60,90.00 L420.85,89.59 L421.12,89.19 L421.43,88.77 L421.77,88.33 L422.16,87.84 L422.60,87.30 L423.11,86.69 L423.69,86.01 L424.31,85.30 L424.96,84.56 L425.63,83.82 L426.30,83.10 L426.99,82.39 L427.73,81.67 L428.48,80.96 L429.23,80.24 L429.94,79.52 L430.60,78.80 L431.22,78.08 L431.82,77.36 L432.39,76.63 L432.91,75.91 L433.39,75.20 L433.80,74.50 L434.14,73.82 L434.42,73.14 L434.65,72.48 L434.83,71.82 L434.98,71.16 L435.10,70.50 Z" fill="#fff" stroke="#111" stroke-width="0.95"/>
<path d="M435.76,73.82 L436.10,74.50 L436.51,75.20 L436.99,75.91 L437.51,76.63 L438.08,77.36 L438.68,78.08 L439.30,78.80 L439.96,79.52 L440.67,80.24 L441.42,80.96 L442.17,81.67 L442.91,82.39 L443.60,83.10 L444.27,83.82 L444.94,84.56 L445.59,85.30 L446.21,86.01 L446.79,86.69 L447.30,87.30 L447.74,87.84 L448.13,88.33 L448.48,88.77 L448.78,89.19 L449.05,89.59 L449.30,90.00 L449.53,90.41 L449.73,90.80 L449.90,91.18 L450.04,91.56 L450.14,91.93 L450.20,92.30 L450.22,92.67 L450.20,93.04 L450.15,93.41 L450.06,93.78 L449.95,94.14 L449.80,94.50 L449.63,94.85 L449.42,95.20 L449.18,95.54 L448.91,95.88 L448.62,96.23 L448.30,96.60 L447.94,96.98 L447.55,97.37 L447.12,97.77 L446.68,98.17 L446.24,98.58 L445.80,99.00 L445.36,99.42 L444.92,99.84 L444.47,100.27 L444.02,100.70 L443.58,101.15 L443.15,101.60 L442.74,102.07 L442.33,102.55 L441.93,103.04 L441.54,103.53 L441.16,104.02 L440.80,104.50 L440.46,104.97 L440.13,105.44 L439.81,105.91 L439.51,106.38 L439.22,106.84 L438.95,107.30 L438.69,107.75 L438.45,108.20 L438.22,108.64 L438.01,109.08 L437.80,109.53 L437.60,110.00 L437.41,110.48 L437.24,110.98 L437.08,111.48 L436.93,111.99 L436.77,112.50 L436.60,113.00 L436.42,113.52 L436.23,114.06 L436.03,114.59 L435.84,115.11 L435.66,115.59 L435.54,115.59 L435.36,115.11 L435.17,114.59 L434.97,114.06 L434.78,113.52 L434.60,113.00 L434.43,112.50 L434.27,111.99 L434.12,111.48 L433.96,110.98 L433.79,110.48 L433.60,110.00 L433.40,109.53 L433.19,109.08 L432.98,108.64 L432.75,108.20 L432.51,107.75 L432.25,107.30 L431.98,106.84 L431.69,106.38 L431.39,105.91 L431.07,105.44 L430.74,104.97 L430.40,104.50 L430.04,104.02 L429.66,103.53 L429.28,103.04 L428.87,102.55 L428.46,102.07 L428.05,101.60 L427.62,101.15 L427.18,100.70 L426.73,100.27 L426.28,99.84 L425.84,99.42 L425.40,99.00 L424.96,98.58 L424.52,98.17 L424.08,97.77 L423.65,97.37 L423.26,96.98 L422.90,96.60 L422.58,96.23 L422.29,95.88 L422.02,95.54 L421.78,95.20 L421.57,94.85 L421.40,94.50 L421.25,94.14 L421.14,93.78 L421.05,93.41 L421.00,93.04 L420.98,92.67 L421.00,92.30 L421.06,91.93 L421.16,91.56 L421.30,91.18 L421.47,90.80 L421.67,90.41 L421.90,90.00 L422.15,89.59 L422.42,89.19 L422.73,88.77 L423.07,88.33 L423.46,87.84 L423.90,87.30 L424.41,86.69 L424.99,86.01 L425.61,85.30 L426.26,84.56 L426.93,83.82 L427.60,83.10 L428.29,82.39 L429.03,81.67 L429.78,80.96 L430.53,80.24 L431.24,79.52 L431.90,78.80 L432.52,78.08 L433.12,77.36 L433.69,76.63 L434.21,75.91 L434.69,75.20 L435.10,74.50 L435.44,73.82 Z" fill="url(#dots)"/>
<path d="M474.00,68.60 L474.14,69.24 L474.31,69.86 L474.53,70.48 L474.79,71.12 L475.08,71.79 L475.40,72.50 L475.75,73.27 L476.12,74.09 L476.52,74.93 L476.98,75.79 L477.50,76.65 L478.10,77.50 L478.80,78.33 L479.61,79.17 L480.48,80.00 L481.37,80.83 L482.26,81.67 L483.10,82.50 L483.92,83.36 L484.76,84.24 L485.60,85.12 L486.39,85.98 L487.12,86.78 L487.75,87.50 L488.28,88.13 L488.73,88.69 L489.12,89.19 L489.45,89.65 L489.74,90.08 L490.00,90.50 L490.24,90.89 L490.44,91.22 L490.60,91.53 L490.72,91.83 L490.79,92.15 L490.80,92.50 L490.75,92.89 L490.63,93.30 L490.46,93.72 L490.25,94.15 L490.03,94.58 L489.80,95.00 L489.57,95.42 L489.34,95.83 L489.08,96.25 L488.80,96.67 L488.47,97.08 L488.10,97.50 L487.67,97.92 L487.18,98.34 L486.65,98.76 L486.10,99.17 L485.54,99.59 L485.00,100.00 L484.45,100.41 L483.87,100.82 L483.28,101.22 L482.71,101.63 L482.18,102.02 L481.70,102.40 L481.29,102.77 L480.92,103.12 L480.59,103.46 L480.29,103.80 L480.00,104.15 L479.70,104.50 L479.42,104.84 L479.16,105.15 L478.91,105.46 L478.66,105.81 L478.39,106.21 L478.10,106.70 L477.77,107.32 L477.40,108.04 L477.02,108.83 L476.65,109.62 L476.30,110.36 L476.00,111.00 L475.74,111.53 L475.52,111.99 L475.32,112.39 L475.14,112.77 L474.97,113.13 L474.80,113.50 L474.63,113.86 L474.47,114.20 L474.32,114.53 L474.19,114.85 L474.08,115.17 L474.00,115.50 L473.00,115.50 L472.92,115.17 L472.81,114.85 L472.68,114.53 L472.53,114.20 L472.37,113.86 L472.20,113.50 L472.03,113.13 L471.86,112.77 L471.68,112.39 L471.48,111.99 L471.26,111.53 L471.00,111.00 L470.70,110.36 L470.35,109.62 L469.98,108.83 L469.60,108.04 L469.23,107.32 L468.90,106.70 L468.61,106.21 L468.34,105.81 L468.09,105.46 L467.84,105.15 L467.58,104.84 L467.30,104.50 L467.00,104.15 L466.71,103.80 L466.41,103.46 L466.08,103.12 L465.71,102.77 L465.30,102.40 L464.82,102.02 L464.29,101.63 L463.72,101.22 L463.13,100.82 L462.55,100.41 L462.00,100.00 L461.46,99.59 L460.90,99.17 L460.35,98.76 L459.82,98.34 L459.33,97.92 L458.90,97.50 L458.53,97.08 L458.20,96.67 L457.92,96.25 L457.66,95.83 L457.43,95.42 L457.20,95.00 L456.97,94.58 L456.75,94.15 L456.54,93.72 L456.37,93.30 L456.25,92.89 L456.20,92.50 L456.21,92.15 L456.28,91.83 L456.40,91.53 L456.56,91.22 L456.76,90.89 L457.00,90.50 L457.26,90.08 L457.55,89.65 L457.88,89.19 L458.27,88.69 L458.72,88.13 L459.25,87.50 L459.88,86.78 L460.61,85.98 L461.40,85.12 L462.24,84.24 L463.08,83.36 L463.90,82.50 L464.74,81.67 L465.63,80.83 L466.52,80.00 L467.39,79.17 L468.20,78.33 L468.90,77.50 L469.50,76.65 L470.02,75.79 L470.48,74.93 L470.88,74.09 L471.25,73.27 L471.60,72.50 L471.92,71.79 L472.21,71.12 L472.47,70.48 L472.69,69.86 L472.86,69.24 L473.00,68.60 Z" fill="#fff" stroke="#111" stroke-width="0.95"/>
<path d="M473.78,71.79 L474.10,72.50 L474.45,73.27 L474.82,74.09 L475.23,74.93 L475.68,75.79 L476.20,76.65 L476.80,77.50 L477.50,78.33 L478.31,79.17 L479.18,80.00 L480.07,80.83 L480.96,81.67 L481.80,82.50 L482.62,83.36 L483.46,84.24 L484.30,85.12 L485.09,85.98 L485.82,86.78 L486.45,87.50 L486.98,88.13 L487.43,88.69 L487.82,89.19 L488.15,89.65 L488.44,90.08 L488.70,90.50 L488.94,90.89 L489.14,91.22 L489.30,91.53 L489.42,91.83 L489.49,92.15 L489.50,92.50 L489.45,92.89 L489.33,93.30 L489.16,93.72 L488.95,94.15 L488.73,94.58 L488.50,95.00 L488.27,95.42 L488.04,95.83 L487.78,96.25 L487.50,96.67 L487.17,97.08 L486.80,97.50 L486.37,97.92 L485.88,98.34 L485.35,98.76 L484.80,99.17 L484.24,99.59 L483.70,100.00 L483.15,100.41 L482.57,100.82 L481.98,101.22 L481.41,101.63 L480.88,102.02 L480.40,102.40 L479.99,102.77 L479.62,103.12 L479.29,103.46 L478.99,103.80 L478.70,104.15 L478.40,104.50 L478.12,104.84 L477.86,105.15 L477.61,105.46 L477.36,105.81 L477.09,106.21 L476.80,106.70 L476.47,107.32 L476.10,108.04 L475.73,108.83 L475.35,109.62 L475.00,110.36 L474.70,111.00 L474.44,111.53 L474.22,111.99 L474.02,112.39 L473.84,112.77 L473.67,113.13 L473.33,113.13 L473.16,112.77 L472.98,112.39 L472.78,111.99 L472.56,111.53 L472.30,111.00 L472.00,110.36 L471.65,109.62 L471.27,108.83 L470.90,108.04 L470.53,107.32 L470.20,106.70 L469.91,106.21 L469.64,105.81 L469.39,105.46 L469.14,105.15 L468.88,104.84 L468.60,104.50 L468.30,104.15 L468.01,103.80 L467.71,103.46 L467.38,103.12 L467.01,102.77 L466.60,102.40 L466.12,102.02 L465.59,101.63 L465.02,101.22 L464.43,100.82 L463.85,100.41 L463.30,100.00 L462.76,99.59 L462.20,99.17 L461.65,98.76 L461.12,98.34 L460.63,97.92 L460.20,97.50 L459.83,97.08 L459.50,96.67 L459.22,96.25 L458.96,95.83 L458.73,95.42 L458.50,95.00 L458.27,94.58 L458.05,94.15 L457.84,93.72 L457.67,93.30 L457.55,92.89 L457.50,92.50 L457.51,92.15 L457.58,91.83 L457.70,91.53 L457.86,91.22 L458.06,90.89 L458.30,90.50 L458.56,90.08 L458.85,89.65 L459.18,89.19 L459.57,88.69 L460.02,88.13 L460.55,87.50 L461.18,86.78 L461.91,85.98 L462.70,85.12 L463.54,84.24 L464.38,83.36 L465.20,82.50 L466.04,81.67 L466.93,80.83 L467.82,80.00 L468.69,79.17 L469.50,78.33 L470.20,77.50 L470.80,76.65 L471.32,75.79 L471.77,74.93 L472.18,74.09 L472.55,73.27 L472.90,72.50 L473.22,71.79 Z" fill="url(#dots)"/>
<line x1="435.60" y1="41.30" x2="435.60" y2="130.00" stroke="#000" stroke-width="0.8"/>
<line x1="473.50" y1="36.40" x2="473.50" y2="125.60" stroke="#000" stroke-width="0.8"/>
<rect x="434.30" y="41.50" width="2.60" height="6.50" rx="1.30" fill="#000"/>
<rect x="434.80" y="61.50" width="1.60" height="2.50" rx="0.80" fill="#000"/>
<rect x="434.70" y="117.00" width="1.80" height="4.00" rx="0.90" fill="#000"/>
<rect x="434.40" y="126.80" width="2.40" height="3.50" rx="1.20" fill="#000"/>
<rect x="472.20" y="36.60" width="2.60" height="6.90" rx="1.30" fill="#000"/>
<rect x="472.60" y="59.50" width="1.80" height="2.50" rx="0.90" fill="#000"/>
<rect x="472.40" y="64.00" width="2.20" height="3.50" rx="1.10" fill="#000"/>
<rect x="472.70" y="115.00" width="1.60" height="5.00" rx="0.80" fill="#000"/>
<rect x="472.50" y="121.00" width="2.00" height="4.60" rx="1.00" fill="#000"/>
<line x1="427.00" y1="70.30" x2="445.50" y2="70.30" stroke="#000" stroke-width="0.9"/>
<line x1="427.00" y1="117.20" x2="445.50" y2="117.20" stroke="#000" stroke-width="0.9"/>
<line x1="463.90" y1="68.70" x2="482.80" y2="68.70" stroke="#000" stroke-width="0.9"/>
<line x1="463.90" y1="114.60" x2="482.80" y2="114.60" stroke="#000" stroke-width="0.9"/>
<rect x="431.60" y="88.30" width="8.20" height="12.70" fill="url(#dots2)" stroke="#9e1836" stroke-width="1.15"/>
<line x1="431.60" y1="94.40" x2="439.80" y2="94.40" stroke="#9e1836" stroke-width="1.1"/>
<rect x="469.50" y="85.40" width="7.40" height="13.20" fill="url(#dots2)" stroke="#9e1836" stroke-width="1.15"/>
<line x1="469.50" y1="93.00" x2="476.90" y2="93.00" stroke="#9e1836" stroke-width="1.1"/>
<rect x="407.40" y="33.50" width="95.00" height="100.10" fill="none" stroke="#111" stroke-width="1.35"/>
<line x1="405.50" y1="131.61" x2="407.40" y2="131.61" stroke="#111" stroke-width="0.75"/>
<line x1="406.30" y1="129.50" x2="407.40" y2="129.50" stroke="#222" stroke-width="0.65"/>
<line x1="406.30" y1="127.72" x2="407.40" y2="127.72" stroke="#222" stroke-width="0.65"/>
<line x1="406.30" y1="126.18" x2="407.40" y2="126.18" stroke="#222" stroke-width="0.65"/>
<line x1="406.30" y1="124.82" x2="407.40" y2="124.82" stroke="#222" stroke-width="0.65"/>
<line x1="404.40" y1="123.60" x2="407.40" y2="123.60" stroke="#000" stroke-width="0.9"/>
<line x1="406.30" y1="115.59" x2="407.40" y2="115.59" stroke="#222" stroke-width="0.65"/>
<line x1="406.30" y1="110.91" x2="407.40" y2="110.91" stroke="#222" stroke-width="0.65"/>
<line x1="406.30" y1="107.59" x2="407.40" y2="107.59" stroke="#222" stroke-width="0.65"/>
<line x1="405.50" y1="105.01" x2="407.40" y2="105.01" stroke="#111" stroke-width="0.75"/>
<line x1="406.30" y1="102.90" x2="407.40" y2="102.90" stroke="#222" stroke-width="0.65"/>
<line x1="406.30" y1="101.12" x2="407.40" y2="101.12" stroke="#222" stroke-width="0.65"/>
<line x1="406.30" y1="99.58" x2="407.40" y2="99.58" stroke="#222" stroke-width="0.65"/>
<line x1="406.30" y1="98.22" x2="407.40" y2="98.22" stroke="#222" stroke-width="0.65"/>
<line x1="404.40" y1="97.00" x2="407.40" y2="97.00" stroke="#000" stroke-width="0.9"/>
<line x1="406.30" y1="88.99" x2="407.40" y2="88.99" stroke="#222" stroke-width="0.65"/>
<line x1="406.30" y1="84.31" x2="407.40" y2="84.31" stroke="#222" stroke-width="0.65"/>
<line x1="406.30" y1="80.99" x2="407.40" y2="80.99" stroke="#222" stroke-width="0.65"/>
<line x1="405.50" y1="78.41" x2="407.40" y2="78.41" stroke="#111" stroke-width="0.75"/>
<line x1="406.30" y1="76.30" x2="407.40" y2="76.30" stroke="#222" stroke-width="0.65"/>
<line x1="406.30" y1="74.52" x2="407.40" y2="74.52" stroke="#222" stroke-width="0.65"/>
<line x1="406.30" y1="72.98" x2="407.40" y2="72.98" stroke="#222" stroke-width="0.65"/>
<line x1="406.30" y1="71.62" x2="407.40" y2="71.62" stroke="#222" stroke-width="0.65"/>
<line x1="404.40" y1="70.40" x2="407.40" y2="70.40" stroke="#000" stroke-width="0.9"/>
<line x1="406.30" y1="62.39" x2="407.40" y2="62.39" stroke="#222" stroke-width="0.65"/>
<line x1="406.30" y1="57.71" x2="407.40" y2="57.71" stroke="#222" stroke-width="0.65"/>
<line x1="406.30" y1="54.39" x2="407.40" y2="54.39" stroke="#222" stroke-width="0.65"/>
<line x1="405.50" y1="51.81" x2="407.40" y2="51.81" stroke="#111" stroke-width="0.75"/>
<line x1="406.30" y1="49.70" x2="407.40" y2="49.70" stroke="#222" stroke-width="0.65"/>
<line x1="406.30" y1="47.92" x2="407.40" y2="47.92" stroke="#222" stroke-width="0.65"/>
<line x1="406.30" y1="46.38" x2="407.40" y2="46.38" stroke="#222" stroke-width="0.65"/>
<line x1="406.30" y1="45.02" x2="407.40" y2="45.02" stroke="#222" stroke-width="0.65"/>
<line x1="404.40" y1="43.80" x2="407.40" y2="43.80" stroke="#000" stroke-width="0.9"/>
<line x1="406.30" y1="35.79" x2="407.40" y2="35.79" stroke="#222" stroke-width="0.65"/>
<text x="386.10" y="45.90" font-size="5.3" fill="#1a1a1a" textLength="15.00" lengthAdjust="spacingAndGlyphs">1e+05</text>
<text x="386.10" y="98.80" font-size="5.3" fill="#1a1a1a" textLength="15.00" lengthAdjust="spacingAndGlyphs">1e+03</text>
<line x1="435.60" y1="133.60" x2="435.60" y2="136.30" stroke="#000" stroke-width="0.8"/>
<line x1="473.50" y1="133.60" x2="473.50" y2="136.30" stroke="#000" stroke-width="0.8"/>
<text x="430.80" y="144.40" font-size="5.5" fill="#1a1a1a" textLength="9.60" lengthAdjust="spacingAndGlyphs">TRA</text>
<text x="468.40" y="144.40" font-size="5.5" fill="#1a1a1a" textLength="10.20" lengthAdjust="spacingAndGlyphs">TRB</text>
<text transform="translate(380.3,104.8) rotate(-90)" font-size="6.3" fill="#111" textLength="41.7" lengthAdjust="spacingAndGlyphs">Clone number (aa)</text>
<text x="6.90" y="181.40" font-size="12.4" fill="#000" font-weight="bold" textLength="7.90" lengthAdjust="spacingAndGlyphs" stroke="#000" stroke-width="0.45">C</text>
<text x="33.00" y="193.00" font-size="7.5" fill="#1a1a1a" textLength="128.40" lengthAdjust="spacingAndGlyphs">Diversity: Inverse Simpson Index(GI tract)</text>
<line x1="39.30" y1="262.75" x2="40.40" y2="262.75" stroke="#222" stroke-width="0.65"/>
<line x1="39.30" y1="259.87" x2="40.40" y2="259.87" stroke="#222" stroke-width="0.65"/>
<line x1="38.50" y1="257.64" x2="40.40" y2="257.64" stroke="#111" stroke-width="0.75"/>
<line x1="39.30" y1="255.81" x2="40.40" y2="255.81" stroke="#222" stroke-width="0.65"/>
<line x1="39.30" y1="254.27" x2="40.40" y2="254.27" stroke="#222" stroke-width="0.65"/>
<line x1="39.30" y1="252.93" x2="40.40" y2="252.93" stroke="#222" stroke-width="0.65"/>
<line x1="39.30" y1="251.75" x2="40.40" y2="251.75" stroke="#222" stroke-width="0.65"/>
<line x1="37.40" y1="250.70" x2="40.40" y2="250.70" stroke="#000" stroke-width="0.9"/>
<line x1="39.30" y1="243.76" x2="40.40" y2="243.76" stroke="#222" stroke-width="0.65"/>
<line x1="39.30" y1="239.70" x2="40.40" y2="239.70" stroke="#222" stroke-width="0.65"/>
<line x1="39.30" y1="236.82" x2="40.40" y2="236.82" stroke="#222" stroke-width="0.65"/>
<line x1="38.50" y1="234.59" x2="40.40" y2="234.59" stroke="#111" stroke-width="0.75"/>
<line x1="39.30" y1="232.76" x2="40.40" y2="232.76" stroke="#222" stroke-width="0.65"/>
<line x1="39.30" y1="231.22" x2="40.40" y2="231.22" stroke="#222" stroke-width="0.65"/>
<line x1="39.30" y1="229.88" x2="40.40" y2="229.88" stroke="#222" stroke-width="0.65"/>
<line x1="39.30" y1="228.70" x2="40.40" y2="228.70" stroke="#222" stroke-width="0.65"/>
<line x1="37.40" y1="227.65" x2="40.40" y2="227.65" stroke="#000" stroke-width="0.9"/>
<line x1="39.30" y1="220.71" x2="40.40" y2="220.71" stroke="#222" stroke-width="0.65"/>
<line x1="39.30" y1="216.65" x2="40.40" y2="216.65" stroke="#222" stroke-width="0.65"/>
<line x1="39.30" y1="213.77" x2="40.40" y2="213.77" stroke="#222" stroke-width="0.65"/>
<line x1="38.50" y1="211.54" x2="40.40" y2="211.54" stroke="#111" stroke-width="0.75"/>
<line x1="39.30" y1="209.71" x2="40.40" y2="209.71" stroke="#222" stroke-width="0.65"/>
<line x1="39.30" y1="208.17" x2="40.40" y2="208.17" stroke="#222" stroke-width="0.65"/>
<line x1="39.30" y1="206.83" x2="40.40" y2="206.83" stroke="#222" stroke-width="0.65"/>
<line x1="39.30" y1="205.65" x2="40.40" y2="205.65" stroke="#222" stroke-width="0.65"/>
<line x1="37.40" y1="204.60" x2="40.40" y2="204.60" stroke="#000" stroke-width="0.9"/>
<text x="22.80" y="206.45" font-size="5.2" fill="#1a1a1a" textLength="11.40" lengthAdjust="spacingAndGlyphs">1000</text>
<text x="25.70" y="229.50" font-size="5.2" fill="#1a1a1a" textLength="8.50" lengthAdjust="spacingAndGlyphs">100</text>
<text x="28.50" y="252.55" font-size="5.2" fill="#1a1a1a" textLength="5.70" lengthAdjust="spacingAndGlyphs">10</text>
<rect x="145.00" y="198.40" width="9.00" height="68.70" fill="#c0c0c0" stroke="#222" stroke-width="1.3"/>
<text transform="translate(148.2,227.75) rotate(90)" font-size="4.9" fill="#222" textLength="10" lengthAdjust="spacingAndGlyphs">TRA</text>
<line x1="39.30" y1="339.71" x2="40.40" y2="339.71" stroke="#222" stroke-width="0.65"/>
<line x1="39.30" y1="335.65" x2="40.40" y2="335.65" stroke="#222" stroke-width="0.65"/>
<line x1="39.30" y1="332.77" x2="40.40" y2="332.77" stroke="#222" stroke-width="0.65"/>
<line x1="38.50" y1="330.54" x2="40.40" y2="330.54" stroke="#111" stroke-width="0.75"/>
<line x1="39.30" y1="328.71" x2="40.40" y2="328.71" stroke="#222" stroke-width="0.65"/>
<line x1="39.30" y1="327.17" x2="40.40" y2="327.17" stroke="#222" stroke-width="0.65"/>
<line x1="39.30" y1="325.83" x2="40.40" y2="325.83" stroke="#222" stroke-width="0.65"/>
<line x1="39.30" y1="324.65" x2="40.40" y2="324.65" stroke="#222" stroke-width="0.65"/>
<line x1="37.40" y1="323.60" x2="40.40" y2="323.60" stroke="#000" stroke-width="0.9"/>
<line x1="39.30" y1="316.66" x2="40.40" y2="316.66" stroke="#222" stroke-width="0.65"/>
<line x1="39.30" y1="312.60" x2="40.40" y2="312.60" stroke="#222" stroke-width="0.65"/>
<line x1="39.30" y1="309.72" x2="40.40" y2="309.72" stroke="#222" stroke-width="0.65"/>
<line x1="38.50" y1="307.49" x2="40.40" y2="307.49" stroke="#111" stroke-width="0.75"/>
<line x1="39.30" y1="305.66" x2="40.40" y2="305.66" stroke="#222" stroke-width="0.65"/>
<line x1="39.30" y1="304.12" x2="40.40" y2="304.12" stroke="#222" stroke-width="0.65"/>
<line x1="39.30" y1="302.78" x2="40.40" y2="302.78" stroke="#222" stroke-width="0.65"/>
<line x1="39.30" y1="301.60" x2="40.40" y2="301.60" stroke="#222" stroke-width="0.65"/>
<line x1="37.40" y1="300.55" x2="40.40" y2="300.55" stroke="#000" stroke-width="0.9"/>
<line x1="39.30" y1="293.61" x2="40.40" y2="293.61" stroke="#222" stroke-width="0.65"/>
<line x1="39.30" y1="289.55" x2="40.40" y2="289.55" stroke="#222" stroke-width="0.65"/>
<line x1="39.30" y1="286.67" x2="40.40" y2="286.67" stroke="#222" stroke-width="0.65"/>
<line x1="38.50" y1="284.44" x2="40.40" y2="284.44" stroke="#111" stroke-width="0.75"/>
<line x1="39.30" y1="282.61" x2="40.40" y2="282.61" stroke="#222" stroke-width="0.65"/>
<line x1="39.30" y1="281.07" x2="40.40" y2="281.07" stroke="#222" stroke-width="0.65"/>
<line x1="39.30" y1="279.73" x2="40.40" y2="279.73" stroke="#222" stroke-width="0.65"/>
<line x1="39.30" y1="278.55" x2="40.40" y2="278.55" stroke="#222" stroke-width="0.65"/>
<line x1="37.40" y1="277.50" x2="40.40" y2="277.50" stroke="#000" stroke-width="0.9"/>
<text x="22.80" y="279.35" font-size="5.2" fill="#1a1a1a" textLength="11.40" lengthAdjust="spacingAndGlyphs">1000</text>
<text x="25.70" y="302.40" font-size="5.2" fill="#1a1a1a" textLength="8.50" lengthAdjust="spacingAndGlyphs">100</text>
<text x="28.50" y="325.45" font-size="5.2" fill="#1a1a1a" textLength="5.70" lengthAdjust="spacingAndGlyphs">10</text>
<rect x="145.00" y="270.00" width="9.00" height="72.70" fill="#c0c0c0" stroke="#222" stroke-width="1.3"/>
<text transform="translate(148.2,301.35) rotate(90)" font-size="4.9" fill="#222" textLength="10" lengthAdjust="spacingAndGlyphs">TRB</text>
<line x1="58.55" y1="209.80" x2="58.55" y2="221.00" stroke="#333" stroke-width="0.8"/>
<line x1="58.55" y1="231.90" x2="58.55" y2="244.70" stroke="#333" stroke-width="0.8"/>
<rect x="47.30" y="221.00" width="22.50" height="10.90" fill="#a6002c" stroke="#a6002c" stroke-width="0.6"/>
<line x1="47.30" y1="226.30" x2="69.80" y2="226.30" stroke="#000" stroke-width="1.6"/>
<line x1="92.75" y1="214.60" x2="92.75" y2="225.40" stroke="#333" stroke-width="0.8"/>
<line x1="92.75" y1="236.30" x2="92.75" y2="250.40" stroke="#333" stroke-width="0.8"/>
<rect x="81.50" y="225.40" width="22.50" height="10.90" fill="#a6002c" stroke="#a6002c" stroke-width="0.6"/>
<line x1="81.50" y1="228.30" x2="104.00" y2="228.30" stroke="#000" stroke-width="1.6"/>
<line x1="127.25" y1="218.40" x2="127.25" y2="230.30" stroke="#333" stroke-width="0.8"/>
<line x1="127.25" y1="242.40" x2="127.25" y2="257.10" stroke="#333" stroke-width="0.8"/>
<rect x="116.10" y="230.30" width="22.30" height="12.10" fill="#a6002c" stroke="#a6002c" stroke-width="0.6"/>
<line x1="116.10" y1="236.90" x2="138.40" y2="236.90" stroke="#000" stroke-width="1.6"/>
<line x1="58.65" y1="272.90" x2="58.65" y2="287.30" stroke="#333" stroke-width="0.8"/>
<line x1="58.65" y1="299.40" x2="58.65" y2="305.80" stroke="#333" stroke-width="0.8"/>
<rect x="47.40" y="287.30" width="22.50" height="12.10" fill="#a6002c" stroke="#a6002c" stroke-width="0.6"/>
<line x1="47.40" y1="292.90" x2="69.90" y2="292.90" stroke="#000" stroke-width="1.6"/>
<line x1="92.75" y1="287.90" x2="92.75" y2="297.90" stroke="#333" stroke-width="0.8"/>
<line x1="92.75" y1="307.70" x2="92.75" y2="321.90" stroke="#333" stroke-width="0.8"/>
<rect x="81.50" y="297.90" width="22.50" height="9.80" fill="#a6002c" stroke="#a6002c" stroke-width="0.6"/>
<line x1="81.50" y1="302.50" x2="104.00" y2="302.50" stroke="#000" stroke-width="1.6"/>
<line x1="127.20" y1="294.40" x2="127.20" y2="306.20" stroke="#333" stroke-width="0.8"/>
<line x1="127.20" y1="314.50" x2="127.20" y2="323.60" stroke="#333" stroke-width="0.8"/>
<rect x="115.90" y="306.20" width="22.60" height="8.30" fill="#a6002c" stroke="#a6002c" stroke-width="0.6"/>
<line x1="115.90" y1="310.50" x2="138.50" y2="310.50" stroke="#000" stroke-width="1.6"/>
<rect x="40.40" y="198.40" width="104.60" height="68.70" fill="none" stroke="#111" stroke-width="1.35"/>
<rect x="40.40" y="270.00" width="104.60" height="72.70" fill="none" stroke="#111" stroke-width="1.35"/>
<text x="91.60" y="204.60" font-size="5" fill="#1a1a1a" textLength="2.00" lengthAdjust="spacingAndGlyphs">*</text>
<text x="123.60" y="204.60" font-size="5" fill="#1a1a1a" textLength="6.80" lengthAdjust="spacingAndGlyphs">****</text>
<text x="89.30" y="276.40" font-size="5" fill="#1a1a1a" textLength="6.80" lengthAdjust="spacingAndGlyphs">****</text>
<text x="123.60" y="276.40" font-size="5" fill="#1a1a1a" textLength="6.80" lengthAdjust="spacingAndGlyphs">****</text>
<line x1="58.50" y1="342.70" x2="58.50" y2="345.20" stroke="#000" stroke-width="0.8"/>
<line x1="92.50" y1="342.70" x2="92.50" y2="345.20" stroke="#000" stroke-width="0.8"/>
<line x1="127.20" y1="342.70" x2="127.20" y2="345.20" stroke="#000" stroke-width="0.8"/>
<text x="43.80" y="353.80" font-size="5" fill="#1a1a1a" textLength="29.20" lengthAdjust="spacingAndGlyphs">Pre−tx:Donor</text>
<text x="50.50" y="360.10" font-size="5" fill="#1a1a1a" textLength="16.50" lengthAdjust="spacingAndGlyphs">(Day 0)</text>
<text x="77.50" y="353.80" font-size="5" fill="#1a1a1a" textLength="30.50" lengthAdjust="spacingAndGlyphs">Phase I:Recip</text>
<text x="83.00" y="360.10" font-size="5" fill="#1a1a1a" textLength="24.50" lengthAdjust="spacingAndGlyphs">(Day 9−11)</text>
<text x="110.50" y="353.80" font-size="5" fill="#1a1a1a" textLength="33.20" lengthAdjust="spacingAndGlyphs">Phase II:Recip</text>
<text x="115.00" y="360.10" font-size="5" fill="#1a1a1a" textLength="28.70" lengthAdjust="spacingAndGlyphs">(Day 18−32)</text>
<text x="72.00" y="369.70" font-size="6.3" fill="#1a1a1a" font-weight="bold" textLength="41.30" lengthAdjust="spacingAndGlyphs">Pre, post−tx (day)</text>
<text transform="translate(16.9,295) rotate(-90)" font-size="6.6" fill="#111" textLength="50" lengthAdjust="spacingAndGlyphs">Inverse simpson index</text>
<text x="158.10" y="204.10" font-size="4.9" fill="#1a1a1a" textLength="33.90" lengthAdjust="spacingAndGlyphs">****: <tspan font-style="italic">P</tspan> ≤0.0001</text>
<text x="158.10" y="211.10" font-size="4.9" fill="#1a1a1a" textLength="28.70" lengthAdjust="spacingAndGlyphs">***: <tspan font-style="italic">P</tspan> ≤0.001</text>
<text x="158.10" y="218.40" font-size="4.9" fill="#1a1a1a" textLength="23.70" lengthAdjust="spacingAndGlyphs">**: <tspan font-style="italic">P</tspan> ≤0.01</text>
<text x="158.10" y="225.60" font-size="4.9" fill="#1a1a1a" textLength="22.40" lengthAdjust="spacingAndGlyphs">*: <tspan font-style="italic">P</tspan> ≤0.05</text>
<text x="207.90" y="181.50" font-size="12.4" fill="#000" font-weight="bold" textLength="8.20" lengthAdjust="spacingAndGlyphs" stroke="#000" stroke-width="0.45">D</text>
<text x="274.00" y="193.10" font-size="7.5" fill="#1a1a1a" textLength="130.60" lengthAdjust="spacingAndGlyphs">Diversity: Inverse Simpson Index (GI tract)</text>
<rect x="238.40" y="198.40" width="46.70" height="9.80" fill="#c0c0c0" stroke="#111" stroke-width="1.3"/>
<text x="252.15" y="205.40" font-size="5.2" fill="#222" textLength="19.60" lengthAdjust="spacingAndGlyphs">SYN−B6</text>
<line x1="237.30" y1="274.24" x2="238.40" y2="274.24" stroke="#222" stroke-width="0.65"/>
<line x1="237.30" y1="270.48" x2="238.40" y2="270.48" stroke="#222" stroke-width="0.65"/>
<line x1="236.50" y1="267.56" x2="238.40" y2="267.56" stroke="#111" stroke-width="0.75"/>
<line x1="237.30" y1="265.18" x2="238.40" y2="265.18" stroke="#222" stroke-width="0.65"/>
<line x1="237.30" y1="263.16" x2="238.40" y2="263.16" stroke="#222" stroke-width="0.65"/>
<line x1="237.30" y1="261.42" x2="238.40" y2="261.42" stroke="#222" stroke-width="0.65"/>
<line x1="237.30" y1="259.88" x2="238.40" y2="259.88" stroke="#222" stroke-width="0.65"/>
<line x1="235.40" y1="258.50" x2="238.40" y2="258.50" stroke="#000" stroke-width="0.9"/>
<line x1="237.30" y1="249.44" x2="238.40" y2="249.44" stroke="#222" stroke-width="0.65"/>
<line x1="237.30" y1="244.14" x2="238.40" y2="244.14" stroke="#222" stroke-width="0.65"/>
<line x1="237.30" y1="240.38" x2="238.40" y2="240.38" stroke="#222" stroke-width="0.65"/>
<line x1="236.50" y1="237.46" x2="238.40" y2="237.46" stroke="#111" stroke-width="0.75"/>
<line x1="237.30" y1="235.08" x2="238.40" y2="235.08" stroke="#222" stroke-width="0.65"/>
<line x1="237.30" y1="233.06" x2="238.40" y2="233.06" stroke="#222" stroke-width="0.65"/>
<line x1="237.30" y1="231.32" x2="238.40" y2="231.32" stroke="#222" stroke-width="0.65"/>
<line x1="237.30" y1="229.78" x2="238.40" y2="229.78" stroke="#222" stroke-width="0.65"/>
<line x1="235.40" y1="228.40" x2="238.40" y2="228.40" stroke="#000" stroke-width="0.9"/>
<line x1="237.30" y1="219.34" x2="238.40" y2="219.34" stroke="#222" stroke-width="0.65"/>
<line x1="237.30" y1="214.04" x2="238.40" y2="214.04" stroke="#222" stroke-width="0.65"/>
<line x1="237.30" y1="210.28" x2="238.40" y2="210.28" stroke="#222" stroke-width="0.65"/>
<line x1="237.30" y1="353.34" x2="238.40" y2="353.34" stroke="#222" stroke-width="0.65"/>
<line x1="237.30" y1="348.04" x2="238.40" y2="348.04" stroke="#222" stroke-width="0.65"/>
<line x1="237.30" y1="344.28" x2="238.40" y2="344.28" stroke="#222" stroke-width="0.65"/>
<line x1="236.50" y1="341.36" x2="238.40" y2="341.36" stroke="#111" stroke-width="0.75"/>
<line x1="237.30" y1="338.98" x2="238.40" y2="338.98" stroke="#222" stroke-width="0.65"/>
<line x1="237.30" y1="336.96" x2="238.40" y2="336.96" stroke="#222" stroke-width="0.65"/>
<line x1="237.30" y1="335.22" x2="238.40" y2="335.22" stroke="#222" stroke-width="0.65"/>
<line x1="237.30" y1="333.68" x2="238.40" y2="333.68" stroke="#222" stroke-width="0.65"/>
<line x1="235.40" y1="332.30" x2="238.40" y2="332.30" stroke="#000" stroke-width="0.9"/>
<line x1="237.30" y1="323.24" x2="238.40" y2="323.24" stroke="#222" stroke-width="0.65"/>
<line x1="237.30" y1="317.94" x2="238.40" y2="317.94" stroke="#222" stroke-width="0.65"/>
<line x1="237.30" y1="314.18" x2="238.40" y2="314.18" stroke="#222" stroke-width="0.65"/>
<line x1="236.50" y1="311.26" x2="238.40" y2="311.26" stroke="#111" stroke-width="0.75"/>
<line x1="237.30" y1="308.88" x2="238.40" y2="308.88" stroke="#222" stroke-width="0.65"/>
<line x1="237.30" y1="306.86" x2="238.40" y2="306.86" stroke="#222" stroke-width="0.65"/>
<line x1="237.30" y1="305.12" x2="238.40" y2="305.12" stroke="#222" stroke-width="0.65"/>
<line x1="237.30" y1="303.58" x2="238.40" y2="303.58" stroke="#222" stroke-width="0.65"/>
<line x1="235.40" y1="302.20" x2="238.40" y2="302.20" stroke="#000" stroke-width="0.9"/>
<line x1="237.30" y1="293.14" x2="238.40" y2="293.14" stroke="#222" stroke-width="0.65"/>
<line x1="237.30" y1="287.84" x2="238.40" y2="287.84" stroke="#222" stroke-width="0.65"/>
<line x1="237.30" y1="284.08" x2="238.40" y2="284.08" stroke="#222" stroke-width="0.65"/>
<rect x="290.10" y="198.40" width="45.80" height="9.80" fill="#c0c0c0" stroke="#111" stroke-width="1.3"/>
<text x="303.40" y="205.40" font-size="5.2" fill="#222" textLength="19.60" lengthAdjust="spacingAndGlyphs">MIN−BB</text>
<line x1="289.00" y1="274.24" x2="290.10" y2="274.24" stroke="#222" stroke-width="0.65"/>
<line x1="289.00" y1="270.48" x2="290.10" y2="270.48" stroke="#222" stroke-width="0.65"/>
<line x1="288.20" y1="267.56" x2="290.10" y2="267.56" stroke="#111" stroke-width="0.75"/>
<line x1="289.00" y1="265.18" x2="290.10" y2="265.18" stroke="#222" stroke-width="0.65"/>
<line x1="289.00" y1="263.16" x2="290.10" y2="263.16" stroke="#222" stroke-width="0.65"/>
<line x1="289.00" y1="261.42" x2="290.10" y2="261.42" stroke="#222" stroke-width="0.65"/>
<line x1="289.00" y1="259.88" x2="290.10" y2="259.88" stroke="#222" stroke-width="0.65"/>
<line x1="287.10" y1="258.50" x2="290.10" y2="258.50" stroke="#000" stroke-width="0.9"/>
<line x1="289.00" y1="249.44" x2="290.10" y2="249.44" stroke="#222" stroke-width="0.65"/>
<line x1="289.00" y1="244.14" x2="290.10" y2="244.14" stroke="#222" stroke-width="0.65"/>
<line x1="289.00" y1="240.38" x2="290.10" y2="240.38" stroke="#222" stroke-width="0.65"/>
<line x1="288.20" y1="237.46" x2="290.10" y2="237.46" stroke="#111" stroke-width="0.75"/>
<line x1="289.00" y1="235.08" x2="290.10" y2="235.08" stroke="#222" stroke-width="0.65"/>
<line x1="289.00" y1="233.06" x2="290.10" y2="233.06" stroke="#222" stroke-width="0.65"/>
<line x1="289.00" y1="231.32" x2="290.10" y2="231.32" stroke="#222" stroke-width="0.65"/>
<line x1="289.00" y1="229.78" x2="290.10" y2="229.78" stroke="#222" stroke-width="0.65"/>
<line x1="287.10" y1="228.40" x2="290.10" y2="228.40" stroke="#000" stroke-width="0.9"/>
<line x1="289.00" y1="219.34" x2="290.10" y2="219.34" stroke="#222" stroke-width="0.65"/>
<line x1="289.00" y1="214.04" x2="290.10" y2="214.04" stroke="#222" stroke-width="0.65"/>
<line x1="289.00" y1="210.28" x2="290.10" y2="210.28" stroke="#222" stroke-width="0.65"/>
<line x1="289.00" y1="353.34" x2="290.10" y2="353.34" stroke="#222" stroke-width="0.65"/>
<line x1="289.00" y1="348.04" x2="290.10" y2="348.04" stroke="#222" stroke-width="0.65"/>
<line x1="289.00" y1="344.28" x2="290.10" y2="344.28" stroke="#222" stroke-width="0.65"/>
<line x1="288.20" y1="341.36" x2="290.10" y2="341.36" stroke="#111" stroke-width="0.75"/>
<line x1="289.00" y1="338.98" x2="290.10" y2="338.98" stroke="#222" stroke-width="0.65"/>
<line x1="289.00" y1="336.96" x2="290.10" y2="336.96" stroke="#222" stroke-width="0.65"/>
<line x1="289.00" y1="335.22" x2="290.10" y2="335.22" stroke="#222" stroke-width="0.65"/>
<line x1="289.00" y1="333.68" x2="290.10" y2="333.68" stroke="#222" stroke-width="0.65"/>
<line x1="287.10" y1="332.30" x2="290.10" y2="332.30" stroke="#000" stroke-width="0.9"/>
<line x1="289.00" y1="323.24" x2="290.10" y2="323.24" stroke="#222" stroke-width="0.65"/>
<line x1="289.00" y1="317.94" x2="290.10" y2="317.94" stroke="#222" stroke-width="0.65"/>
<line x1="289.00" y1="314.18" x2="290.10" y2="314.18" stroke="#222" stroke-width="0.65"/>
<line x1="288.20" y1="311.26" x2="290.10" y2="311.26" stroke="#111" stroke-width="0.75"/>
<line x1="289.00" y1="308.88" x2="290.10" y2="308.88" stroke="#222" stroke-width="0.65"/>
<line x1="289.00" y1="306.86" x2="290.10" y2="306.86" stroke="#222" stroke-width="0.65"/>
<line x1="289.00" y1="305.12" x2="290.10" y2="305.12" stroke="#222" stroke-width="0.65"/>
<line x1="289.00" y1="303.58" x2="290.10" y2="303.58" stroke="#222" stroke-width="0.65"/>
<line x1="287.10" y1="302.20" x2="290.10" y2="302.20" stroke="#000" stroke-width="0.9"/>
<line x1="289.00" y1="293.14" x2="290.10" y2="293.14" stroke="#222" stroke-width="0.65"/>
<line x1="289.00" y1="287.84" x2="290.10" y2="287.84" stroke="#222" stroke-width="0.65"/>
<line x1="289.00" y1="284.08" x2="290.10" y2="284.08" stroke="#222" stroke-width="0.65"/>
<rect x="342.20" y="198.40" width="46.10" height="9.80" fill="#c0c0c0" stroke="#111" stroke-width="1.3"/>
<text x="355.65" y="205.40" font-size="5.2" fill="#222" textLength="19.60" lengthAdjust="spacingAndGlyphs">MAJ−BR</text>
<line x1="341.10" y1="274.24" x2="342.20" y2="274.24" stroke="#222" stroke-width="0.65"/>
<line x1="341.10" y1="270.48" x2="342.20" y2="270.48" stroke="#222" stroke-width="0.65"/>
<line x1="340.30" y1="267.56" x2="342.20" y2="267.56" stroke="#111" stroke-width="0.75"/>
<line x1="341.10" y1="265.18" x2="342.20" y2="265.18" stroke="#222" stroke-width="0.65"/>
<line x1="341.10" y1="263.16" x2="342.20" y2="263.16" stroke="#222" stroke-width="0.65"/>
<line x1="341.10" y1="261.42" x2="342.20" y2="261.42" stroke="#222" stroke-width="0.65"/>
<line x1="341.10" y1="259.88" x2="342.20" y2="259.88" stroke="#222" stroke-width="0.65"/>
<line x1="339.20" y1="258.50" x2="342.20" y2="258.50" stroke="#000" stroke-width="0.9"/>
<line x1="341.10" y1="249.44" x2="342.20" y2="249.44" stroke="#222" stroke-width="0.65"/>
<line x1="341.10" y1="244.14" x2="342.20" y2="244.14" stroke="#222" stroke-width="0.65"/>
<line x1="341.10" y1="240.38" x2="342.20" y2="240.38" stroke="#222" stroke-width="0.65"/>
<line x1="340.30" y1="237.46" x2="342.20" y2="237.46" stroke="#111" stroke-width="0.75"/>
<line x1="341.10" y1="235.08" x2="342.20" y2="235.08" stroke="#222" stroke-width="0.65"/>
<line x1="341.10" y1="233.06" x2="342.20" y2="233.06" stroke="#222" stroke-width="0.65"/>
<line x1="341.10" y1="231.32" x2="342.20" y2="231.32" stroke="#222" stroke-width="0.65"/>
<line x1="341.10" y1="229.78" x2="342.20" y2="229.78" stroke="#222" stroke-width="0.65"/>
<line x1="339.20" y1="228.40" x2="342.20" y2="228.40" stroke="#000" stroke-width="0.9"/>
<line x1="341.10" y1="219.34" x2="342.20" y2="219.34" stroke="#222" stroke-width="0.65"/>
<line x1="341.10" y1="214.04" x2="342.20" y2="214.04" stroke="#222" stroke-width="0.65"/>
<line x1="341.10" y1="210.28" x2="342.20" y2="210.28" stroke="#222" stroke-width="0.65"/>
<line x1="341.10" y1="353.34" x2="342.20" y2="353.34" stroke="#222" stroke-width="0.65"/>
<line x1="341.10" y1="348.04" x2="342.20" y2="348.04" stroke="#222" stroke-width="0.65"/>
<line x1="341.10" y1="344.28" x2="342.20" y2="344.28" stroke="#222" stroke-width="0.65"/>
<line x1="340.30" y1="341.36" x2="342.20" y2="341.36" stroke="#111" stroke-width="0.75"/>
<line x1="341.10" y1="338.98" x2="342.20" y2="338.98" stroke="#222" stroke-width="0.65"/>
<line x1="341.10" y1="336.96" x2="342.20" y2="336.96" stroke="#222" stroke-width="0.65"/>
<line x1="341.10" y1="335.22" x2="342.20" y2="335.22" stroke="#222" stroke-width="0.65"/>
<line x1="341.10" y1="333.68" x2="342.20" y2="333.68" stroke="#222" stroke-width="0.65"/>
<line x1="339.20" y1="332.30" x2="342.20" y2="332.30" stroke="#000" stroke-width="0.9"/>
<line x1="341.10" y1="323.24" x2="342.20" y2="323.24" stroke="#222" stroke-width="0.65"/>
<line x1="341.10" y1="317.94" x2="342.20" y2="317.94" stroke="#222" stroke-width="0.65"/>
<line x1="341.10" y1="314.18" x2="342.20" y2="314.18" stroke="#222" stroke-width="0.65"/>
<line x1="340.30" y1="311.26" x2="342.20" y2="311.26" stroke="#111" stroke-width="0.75"/>
<line x1="341.10" y1="308.88" x2="342.20" y2="308.88" stroke="#222" stroke-width="0.65"/>
<line x1="341.10" y1="306.86" x2="342.20" y2="306.86" stroke="#222" stroke-width="0.65"/>
<line x1="341.10" y1="305.12" x2="342.20" y2="305.12" stroke="#222" stroke-width="0.65"/>
<line x1="341.10" y1="303.58" x2="342.20" y2="303.58" stroke="#222" stroke-width="0.65"/>
<line x1="339.20" y1="302.20" x2="342.20" y2="302.20" stroke="#000" stroke-width="0.9"/>
<line x1="341.10" y1="293.14" x2="342.20" y2="293.14" stroke="#222" stroke-width="0.65"/>
<line x1="341.10" y1="287.84" x2="342.20" y2="287.84" stroke="#222" stroke-width="0.65"/>
<line x1="341.10" y1="284.08" x2="342.20" y2="284.08" stroke="#222" stroke-width="0.65"/>
<rect x="394.50" y="198.40" width="46.10" height="9.80" fill="#c0c0c0" stroke="#111" stroke-width="1.3"/>
<text x="407.95" y="205.40" font-size="5.2" fill="#222" textLength="19.60" lengthAdjust="spacingAndGlyphs">MAJ−BC</text>
<line x1="393.40" y1="274.24" x2="394.50" y2="274.24" stroke="#222" stroke-width="0.65"/>
<line x1="393.40" y1="270.48" x2="394.50" y2="270.48" stroke="#222" stroke-width="0.65"/>
<line x1="392.60" y1="267.56" x2="394.50" y2="267.56" stroke="#111" stroke-width="0.75"/>
<line x1="393.40" y1="265.18" x2="394.50" y2="265.18" stroke="#222" stroke-width="0.65"/>
<line x1="393.40" y1="263.16" x2="394.50" y2="263.16" stroke="#222" stroke-width="0.65"/>
<line x1="393.40" y1="261.42" x2="394.50" y2="261.42" stroke="#222" stroke-width="0.65"/>
<line x1="393.40" y1="259.88" x2="394.50" y2="259.88" stroke="#222" stroke-width="0.65"/>
<line x1="391.50" y1="258.50" x2="394.50" y2="258.50" stroke="#000" stroke-width="0.9"/>
<line x1="393.40" y1="249.44" x2="394.50" y2="249.44" stroke="#222" stroke-width="0.65"/>
<line x1="393.40" y1="244.14" x2="394.50" y2="244.14" stroke="#222" stroke-width="0.65"/>
<line x1="393.40" y1="240.38" x2="394.50" y2="240.38" stroke="#222" stroke-width="0.65"/>
<line x1="392.60" y1="237.46" x2="394.50" y2="237.46" stroke="#111" stroke-width="0.75"/>
<line x1="393.40" y1="235.08" x2="394.50" y2="235.08" stroke="#222" stroke-width="0.65"/>
<line x1="393.40" y1="233.06" x2="394.50" y2="233.06" stroke="#222" stroke-width="0.65"/>
<line x1="393.40" y1="231.32" x2="394.50" y2="231.32" stroke="#222" stroke-width="0.65"/>
<line x1="393.40" y1="229.78" x2="394.50" y2="229.78" stroke="#222" stroke-width="0.65"/>
<line x1="391.50" y1="228.40" x2="394.50" y2="228.40" stroke="#000" stroke-width="0.9"/>
<line x1="393.40" y1="219.34" x2="394.50" y2="219.34" stroke="#222" stroke-width="0.65"/>
<line x1="393.40" y1="214.04" x2="394.50" y2="214.04" stroke="#222" stroke-width="0.65"/>
<line x1="393.40" y1="210.28" x2="394.50" y2="210.28" stroke="#222" stroke-width="0.65"/>
<line x1="393.40" y1="353.34" x2="394.50" y2="353.34" stroke="#222" stroke-width="0.65"/>
<line x1="393.40" y1="348.04" x2="394.50" y2="348.04" stroke="#222" stroke-width="0.65"/>
<line x1="393.40" y1="344.28" x2="394.50" y2="344.28" stroke="#222" stroke-width="0.65"/>
<line x1="392.60" y1="341.36" x2="394.50" y2="341.36" stroke="#111" stroke-width="0.75"/>
<line x1="393.40" y1="338.98" x2="394.50" y2="338.98" stroke="#222" stroke-width="0.65"/>
<line x1="393.40" y1="336.96" x2="394.50" y2="336.96" stroke="#222" stroke-width="0.65"/>
<line x1="393.40" y1="335.22" x2="394.50" y2="335.22" stroke="#222" stroke-width="0.65"/>
<line x1="393.40" y1="333.68" x2="394.50" y2="333.68" stroke="#222" stroke-width="0.65"/>
<line x1="391.50" y1="332.30" x2="394.50" y2="332.30" stroke="#000" stroke-width="0.9"/>
<line x1="393.40" y1="323.24" x2="394.50" y2="323.24" stroke="#222" stroke-width="0.65"/>
<line x1="393.40" y1="317.94" x2="394.50" y2="317.94" stroke="#222" stroke-width="0.65"/>
<line x1="393.40" y1="314.18" x2="394.50" y2="314.18" stroke="#222" stroke-width="0.65"/>
<line x1="392.60" y1="311.26" x2="394.50" y2="311.26" stroke="#111" stroke-width="0.75"/>
<line x1="393.40" y1="308.88" x2="394.50" y2="308.88" stroke="#222" stroke-width="0.65"/>
<line x1="393.40" y1="306.86" x2="394.50" y2="306.86" stroke="#222" stroke-width="0.65"/>
<line x1="393.40" y1="305.12" x2="394.50" y2="305.12" stroke="#222" stroke-width="0.65"/>
<line x1="393.40" y1="303.58" x2="394.50" y2="303.58" stroke="#222" stroke-width="0.65"/>
<line x1="391.50" y1="302.20" x2="394.50" y2="302.20" stroke="#000" stroke-width="0.9"/>
<line x1="393.40" y1="293.14" x2="394.50" y2="293.14" stroke="#222" stroke-width="0.65"/>
<line x1="393.40" y1="287.84" x2="394.50" y2="287.84" stroke="#222" stroke-width="0.65"/>
<line x1="393.40" y1="284.08" x2="394.50" y2="284.08" stroke="#222" stroke-width="0.65"/>
<text x="224.00" y="230.25" font-size="5.3" fill="#1a1a1a" textLength="9.10" lengthAdjust="spacingAndGlyphs">100</text>
<text x="227.10" y="260.35" font-size="5.3" fill="#1a1a1a" textLength="6.10" lengthAdjust="spacingAndGlyphs">10</text>
<text x="224.00" y="304.05" font-size="5.3" fill="#1a1a1a" textLength="9.10" lengthAdjust="spacingAndGlyphs">100</text>
<text x="227.10" y="334.15" font-size="5.3" fill="#1a1a1a" textLength="6.10" lengthAdjust="spacingAndGlyphs">10</text>
<line x1="253.10" y1="217.60" x2="253.10" y2="226.10" stroke="#333" stroke-width="0.8"/>
<line x1="253.10" y1="244.50" x2="253.10" y2="256.60" stroke="#333" stroke-width="0.8"/>
<rect x="244.20" y="226.10" width="17.80" height="18.40" fill="#a6002c" stroke="#c40a35" stroke-width="0.6"/>
<line x1="244.20" y1="231.80" x2="262.00" y2="231.80" stroke="#000" stroke-width="1.6"/>
<line x1="270.35" y1="216.40" x2="270.35" y2="227.30" stroke="#333" stroke-width="0.8"/>
<line x1="270.35" y1="243.80" x2="270.35" y2="266.70" stroke="#333" stroke-width="0.8"/>
<rect x="262.00" y="227.30" width="16.70" height="16.50" fill="#2e4f88" stroke="#1d3a70" stroke-width="0.6"/>
<line x1="262.00" y1="236.40" x2="278.70" y2="236.40" stroke="#000" stroke-width="1.6"/>
<line x1="253.10" y1="285.90" x2="253.10" y2="295.90" stroke="#333" stroke-width="0.8"/>
<line x1="253.10" y1="314.00" x2="253.10" y2="335.80" stroke="#333" stroke-width="0.8"/>
<rect x="244.20" y="295.90" width="17.80" height="18.10" fill="#a6002c" stroke="#c40a35" stroke-width="0.6"/>
<line x1="244.20" y1="305.50" x2="262.00" y2="305.50" stroke="#000" stroke-width="1.6"/>
<line x1="270.35" y1="288.00" x2="270.35" y2="298.20" stroke="#333" stroke-width="0.8"/>
<line x1="270.35" y1="321.00" x2="270.35" y2="330.40" stroke="#333" stroke-width="0.8"/>
<rect x="262.00" y="298.20" width="16.70" height="22.80" fill="#2e4f88" stroke="#1d3a70" stroke-width="0.6"/>
<line x1="262.00" y1="310.40" x2="278.70" y2="310.40" stroke="#000" stroke-width="1.6"/>
<line x1="304.55" y1="225.10" x2="304.55" y2="230.40" stroke="#333" stroke-width="0.8"/>
<line x1="304.55" y1="240.90" x2="304.55" y2="246.20" stroke="#333" stroke-width="0.8"/>
<rect x="296.00" y="230.40" width="17.10" height="10.50" fill="#a6002c" stroke="#c40a35" stroke-width="0.6"/>
<line x1="296.00" y1="235.60" x2="313.10" y2="235.60" stroke="#000" stroke-width="1.6"/>
<line x1="321.75" y1="221.90" x2="321.75" y2="235.00" stroke="#333" stroke-width="0.8"/>
<line x1="321.75" y1="246.20" x2="321.75" y2="255.70" stroke="#333" stroke-width="0.8"/>
<rect x="313.10" y="235.00" width="17.30" height="11.20" fill="#2e4f88" stroke="#1d3a70" stroke-width="0.6"/>
<line x1="313.10" y1="242.00" x2="330.40" y2="242.00" stroke="#000" stroke-width="1.6"/>
<line x1="304.55" y1="302.90" x2="304.55" y2="305.90" stroke="#333" stroke-width="0.8"/>
<line x1="304.55" y1="310.70" x2="304.55" y2="312.20" stroke="#333" stroke-width="0.8"/>
<rect x="296.00" y="305.90" width="17.10" height="4.80" fill="#a6002c" stroke="#c40a35" stroke-width="0.6"/>
<line x1="296.00" y1="308.20" x2="313.10" y2="308.20" stroke="#000" stroke-width="1.6"/>
<line x1="321.75" y1="313.90" x2="321.75" y2="315.00" stroke="#333" stroke-width="0.8"/>
<line x1="321.75" y1="320.30" x2="321.75" y2="327.00" stroke="#333" stroke-width="0.8"/>
<rect x="313.10" y="315.00" width="17.30" height="5.30" fill="#2e4f88" stroke="#1d3a70" stroke-width="0.6"/>
<line x1="313.10" y1="317.50" x2="330.40" y2="317.50" stroke="#000" stroke-width="1.6"/>
<line x1="356.55" y1="227.20" x2="356.55" y2="229.90" stroke="#333" stroke-width="0.8"/>
<line x1="356.55" y1="238.80" x2="356.55" y2="249.00" stroke="#333" stroke-width="0.8"/>
<rect x="348.00" y="229.90" width="17.10" height="8.90" fill="#a6002c" stroke="#c40a35" stroke-width="0.6"/>
<line x1="348.00" y1="231.40" x2="365.10" y2="231.40" stroke="#000" stroke-width="1.6"/>
<line x1="373.75" y1="227.20" x2="373.75" y2="239.20" stroke="#333" stroke-width="0.8"/>
<line x1="373.75" y1="251.50" x2="373.75" y2="263.70" stroke="#333" stroke-width="0.8"/>
<rect x="365.10" y="239.20" width="17.30" height="12.30" fill="#2e4f88" stroke="#1d3a70" stroke-width="0.6"/>
<line x1="365.10" y1="245.10" x2="382.40" y2="245.10" stroke="#000" stroke-width="1.6"/>
<line x1="356.55" y1="297.40" x2="356.55" y2="298.70" stroke="#333" stroke-width="0.8"/>
<line x1="356.55" y1="310.70" x2="356.55" y2="322.40" stroke="#333" stroke-width="0.8"/>
<rect x="348.00" y="298.70" width="17.10" height="12.00" fill="#a6002c" stroke="#c40a35" stroke-width="0.6"/>
<line x1="348.00" y1="304.40" x2="365.10" y2="304.40" stroke="#000" stroke-width="1.6"/>
<line x1="373.75" y1="306.50" x2="373.75" y2="314.30" stroke="#333" stroke-width="0.8"/>
<line x1="373.75" y1="323.00" x2="373.75" y2="331.90" stroke="#333" stroke-width="0.8"/>
<rect x="365.10" y="314.30" width="17.30" height="8.70" fill="#2e4f88" stroke="#1d3a70" stroke-width="0.6"/>
<line x1="365.10" y1="317.50" x2="382.40" y2="317.50" stroke="#000" stroke-width="1.6"/>
<line x1="408.80" y1="211.30" x2="408.80" y2="220.20" stroke="#333" stroke-width="0.8"/>
<line x1="408.80" y1="234.20" x2="408.80" y2="249.40" stroke="#333" stroke-width="0.8"/>
<rect x="400.10" y="220.20" width="17.40" height="14.00" fill="#a6002c" stroke="#c40a35" stroke-width="0.6"/>
<line x1="400.10" y1="227.20" x2="417.50" y2="227.20" stroke="#000" stroke-width="1.6"/>
<line x1="426.15" y1="229.90" x2="426.15" y2="233.90" stroke="#333" stroke-width="0.8"/>
<line x1="426.15" y1="240.50" x2="426.15" y2="241.20" stroke="#333" stroke-width="0.8"/>
<rect x="417.50" y="233.90" width="17.30" height="6.60" fill="#2e4f88" stroke="#1d3a70" stroke-width="0.6"/>
<line x1="417.50" y1="237.70" x2="434.80" y2="237.70" stroke="#000" stroke-width="1.6"/>
<line x1="408.80" y1="288.10" x2="408.80" y2="299.10" stroke="#333" stroke-width="0.8"/>
<line x1="408.80" y1="310.70" x2="408.80" y2="318.10" stroke="#333" stroke-width="0.8"/>
<rect x="400.10" y="299.10" width="17.40" height="11.60" fill="#a6002c" stroke="#c40a35" stroke-width="0.6"/>
<line x1="400.10" y1="303.80" x2="417.50" y2="303.80" stroke="#000" stroke-width="1.6"/>
<line x1="426.15" y1="306.10" x2="426.15" y2="309.70" stroke="#333" stroke-width="0.8"/>
<line x1="426.15" y1="317.10" x2="426.15" y2="321.30" stroke="#333" stroke-width="0.8"/>
<rect x="417.50" y="309.70" width="17.30" height="7.40" fill="#2e4f88" stroke="#1d3a70" stroke-width="0.6"/>
<line x1="417.50" y1="311.80" x2="434.80" y2="311.80" stroke="#000" stroke-width="1.6"/>
<rect x="238.40" y="208.20" width="46.70" height="70.90" fill="none" stroke="#111" stroke-width="1.35"/>
<rect x="238.40" y="282.50" width="46.70" height="73.70" fill="none" stroke="#111" stroke-width="1.35"/>
<line x1="261.75" y1="356.20" x2="261.75" y2="358.30" stroke="#000" stroke-width="0.8"/>
<rect x="290.10" y="208.20" width="45.80" height="70.90" fill="none" stroke="#111" stroke-width="1.35"/>
<rect x="290.10" y="282.50" width="45.80" height="73.70" fill="none" stroke="#111" stroke-width="1.35"/>
<line x1="313.00" y1="356.20" x2="313.00" y2="358.30" stroke="#000" stroke-width="0.8"/>
<rect x="342.20" y="208.20" width="46.10" height="70.90" fill="none" stroke="#111" stroke-width="1.35"/>
<rect x="342.20" y="282.50" width="46.10" height="73.70" fill="none" stroke="#111" stroke-width="1.35"/>
<line x1="365.25" y1="356.20" x2="365.25" y2="358.30" stroke="#000" stroke-width="0.8"/>
<rect x="394.50" y="208.20" width="46.10" height="70.90" fill="none" stroke="#111" stroke-width="1.35"/>
<rect x="394.50" y="282.50" width="46.10" height="73.70" fill="none" stroke="#111" stroke-width="1.35"/>
<line x1="417.55" y1="356.20" x2="417.55" y2="358.30" stroke="#000" stroke-width="0.8"/>
<text x="259.10" y="214.80" font-size="5" fill="#1a1a1a" textLength="5.20" lengthAdjust="spacingAndGlyphs">ns</text>
<text x="259.10" y="289.00" font-size="5" fill="#1a1a1a" textLength="5.20" lengthAdjust="spacingAndGlyphs">ns</text>
<text x="310.50" y="214.80" font-size="5" fill="#1a1a1a" textLength="5.20" lengthAdjust="spacingAndGlyphs">ns</text>
<text x="310.50" y="289.00" font-size="5" fill="#1a1a1a" textLength="5.20" lengthAdjust="spacingAndGlyphs">ns</text>
<text x="362.48" y="214.60" font-size="5" fill="#1a1a1a" textLength="5.25" lengthAdjust="spacingAndGlyphs">***</text>
<text x="361.60" y="288.80" font-size="5" fill="#1a1a1a" textLength="7.00" lengthAdjust="spacingAndGlyphs">****</text>
<text x="415.75" y="214.60" font-size="5" fill="#1a1a1a" textLength="3.50" lengthAdjust="spacingAndGlyphs">**</text>
<text x="415.75" y="288.80" font-size="5" fill="#1a1a1a" textLength="3.50" lengthAdjust="spacingAndGlyphs">**</text>
<rect x="440.60" y="208.20" width="10.70" height="70.90" fill="#c0c0c0" stroke="#111" stroke-width="1.3"/>
<text transform="translate(444.2,238.45) rotate(90)" font-size="5" fill="#222" textLength="10.4" lengthAdjust="spacingAndGlyphs">TRA</text>
<rect x="440.60" y="282.50" width="10.70" height="73.70" fill="#c0c0c0" stroke="#111" stroke-width="1.3"/>
<text transform="translate(444.2,314.15) rotate(90)" font-size="5" fill="#222" textLength="10.4" lengthAdjust="spacingAndGlyphs">TRB</text>
<text x="251.50" y="366.90" font-size="5.2" fill="#1a1a1a" textLength="20.50" lengthAdjust="spacingAndGlyphs">SYN−B6</text>
<text x="303.00" y="366.90" font-size="5.2" fill="#1a1a1a" textLength="20.20" lengthAdjust="spacingAndGlyphs">MIN−BB</text>
<text x="354.90" y="366.90" font-size="5.2" fill="#1a1a1a" textLength="20.80" lengthAdjust="spacingAndGlyphs">MAJ−BR</text>
<text x="406.80" y="366.90" font-size="5.2" fill="#1a1a1a" textLength="21.10" lengthAdjust="spacingAndGlyphs">MAJ−BC</text>
<text transform="translate(218.3,307.6) rotate(-90)" font-size="6.6" fill="#111" textLength="51.3" lengthAdjust="spacingAndGlyphs">Inverse simpson index</text>
<text x="460.50" y="213.50" font-size="4.9" fill="#1a1a1a" textLength="34.30" lengthAdjust="spacingAndGlyphs">****: <tspan font-style="italic">P</tspan> ≤0.0001</text>
<text x="460.50" y="220.70" font-size="4.9" fill="#1a1a1a" textLength="29.40" lengthAdjust="spacingAndGlyphs">***: <tspan font-style="italic">P</tspan> ≤0.001</text>
<text x="460.50" y="227.60" font-size="4.9" fill="#1a1a1a" textLength="24.50" lengthAdjust="spacingAndGlyphs">**: <tspan font-style="italic">P</tspan> ≤0.01</text>
<text x="460.50" y="234.60" font-size="4.9" fill="#1a1a1a" textLength="22.80" lengthAdjust="spacingAndGlyphs">*: <tspan font-style="italic">P</tspan> ≤0.05</text>
<text x="460.50" y="241.60" font-size="4.9" fill="#1a1a1a" textLength="39.30" lengthAdjust="spacingAndGlyphs"><tspan font-style="italic">ns</tspan>: not significant</text>
<text x="456.20" y="325.60" font-size="5.1" fill="#1a1a1a" textLength="15.20" lengthAdjust="spacingAndGlyphs">Phase:</text>
<line x1="461.20" y1="329.20" x2="461.20" y2="337.30" stroke="#333" stroke-width="0.8"/>
<rect x="457.20" y="330.40" width="8.10" height="5.70" fill="#a6002c" stroke="#c40a35" stroke-width="0.6"/>
<line x1="457.20" y1="333.25" x2="465.30" y2="333.25" stroke="#000" stroke-width="1.2"/>
<text x="466.90" y="335.40" font-size="5.1" fill="#1a1a1a" textLength="42.80" lengthAdjust="spacingAndGlyphs">Phase I (Day 9−11)</text>
<line x1="461.20" y1="339.70" x2="461.20" y2="347.50" stroke="#333" stroke-width="0.8"/>
<rect x="457.20" y="340.90" width="8.10" height="5.40" fill="#2e4f88" stroke="#1d3a70" stroke-width="0.6"/>
<line x1="457.20" y1="343.60" x2="465.30" y2="343.60" stroke="#000" stroke-width="1.2"/>
<text x="466.90" y="345.40" font-size="5.1" fill="#1a1a1a" textLength="46.30" lengthAdjust="spacingAndGlyphs">Phase II (Day18−32)</text></svg></body></html>
